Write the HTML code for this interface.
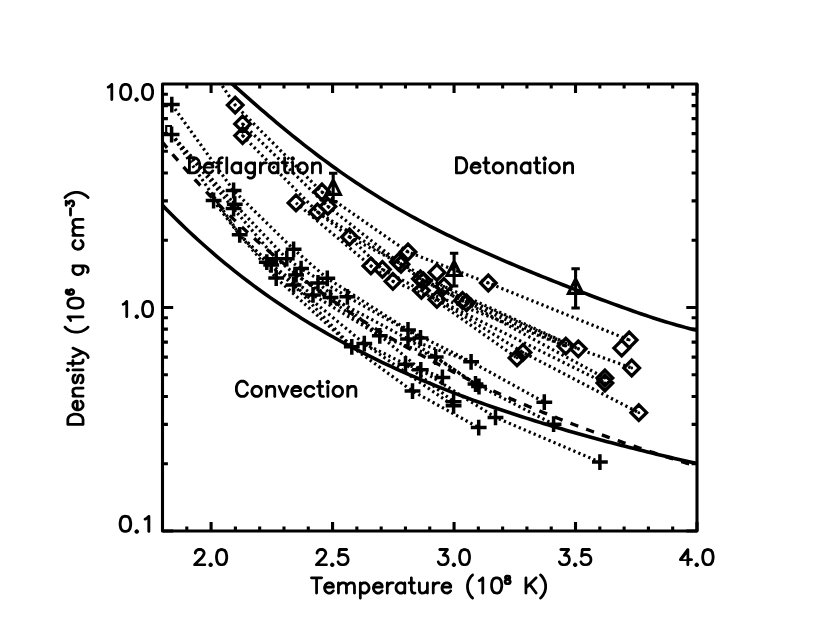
<!DOCTYPE html>
<html><head><meta charset="utf-8"><title>Density vs Temperature</title>
<style>html,body{margin:0;padding:0;background:#fff;font-family:"Liberation Sans",sans-serif;}svg{display:block}</style>
</head><body><svg width="830" height="642" viewBox="0 0 830 642">
<rect x="0" y="0" width="830" height="642" fill="#fff"/>
<defs><clipPath id="c"><rect x="162.5" y="84.0" width="534.5" height="447.0"/></clipPath></defs>
<g clip-path="url(#c)"><path d="M225.00 77.52L228.97 81.07L232.93 84.61L236.90 88.14L240.87 91.66L244.83 95.16L248.80 98.66L252.76 102.13L256.73 105.58L260.70 109.02L264.66 112.43L268.63 115.82L272.60 119.18L276.56 122.52L280.53 125.82L284.50 129.10L288.46 132.36L292.43 135.58L296.39 138.77L300.36 141.92L304.33 145.05L308.29 148.14L312.26 151.19L316.23 154.22L320.19 157.20L324.16 160.16L328.13 163.07L332.09 165.96L336.06 168.80L340.03 171.61L343.99 174.38L347.96 177.12L351.92 179.82L355.89 182.49L359.86 185.12L363.82 187.71L367.79 190.27L371.76 192.80L375.72 195.29L379.69 197.74L383.66 200.17L387.62 202.55L391.59 204.91L395.55 207.23L399.52 209.52L403.49 211.78L407.45 214.01L411.42 216.21L415.39 218.38L419.35 220.52L423.32 222.64L427.29 224.72L431.25 226.78L435.22 228.81L439.18 230.82L443.15 232.81L447.12 234.77L451.08 236.70L455.05 238.62L459.02 240.51L462.98 242.38L466.95 244.23L470.92 246.07L474.88 247.88L478.85 249.68L482.82 251.46L486.78 253.22L490.75 254.97L494.71 256.70L498.68 258.42L502.65 260.13L506.61 261.82L510.58 263.50L514.55 265.17L518.51 266.83L522.48 268.48L526.45 270.11L530.41 271.74L534.38 273.36L538.34 274.97L542.31 276.57L546.28 278.16L550.24 279.75L554.21 281.33L558.18 282.90L562.14 284.46L566.11 286.02L570.08 287.57L574.04 289.11L578.01 290.64L581.97 292.17L585.94 293.69L589.91 295.21L593.87 296.71L597.84 298.21L601.81 299.69L605.77 301.17L609.74 302.64L613.71 304.10L617.67 305.55L621.64 306.98L625.61 308.41L629.57 309.82L633.54 311.21L637.50 312.59L641.47 313.95L645.44 315.29L649.40 316.62L653.37 317.92L657.34 319.20L661.30 320.46L665.27 321.69L669.24 322.89L673.20 324.06L677.17 325.20L681.13 326.31L685.10 327.38L689.07 328.41L693.03 329.40L697.00 330.35" fill="none" stroke="#000" stroke-width="3.6"/><path d="M162.50 205.36L166.99 209.98L171.48 214.51L175.97 218.98L180.47 223.37L184.96 227.69L189.45 231.94L193.94 236.12L198.43 240.23L202.92 244.28L207.42 248.25L211.91 252.17L216.40 256.02L220.89 259.81L225.38 263.53L229.87 267.20L234.37 270.81L238.86 274.35L243.35 277.84L247.84 281.28L252.33 284.65L256.82 287.98L261.32 291.25L265.81 294.46L270.30 297.63L274.79 300.74L279.28 303.81L283.77 306.82L288.26 309.79L292.76 312.71L297.25 315.59L301.74 318.42L306.23 321.20L310.72 323.94L315.21 326.64L319.71 329.30L324.20 331.91L328.69 334.48L333.18 337.02L337.67 339.52L342.16 341.97L346.66 344.39L351.15 346.78L355.64 349.13L360.13 351.44L364.62 353.72L369.11 355.97L373.61 358.18L378.10 360.36L382.59 362.51L387.08 364.63L391.57 366.71L396.06 368.77L400.55 370.80L405.05 372.80L409.54 374.78L414.03 376.72L418.52 378.64L423.01 380.54L427.50 382.41L432.00 384.25L436.49 386.07L440.98 387.87L445.47 389.64L449.96 391.39L454.45 393.12L458.95 394.82L463.44 396.51L467.93 398.17L472.42 399.82L476.91 401.44L481.40 403.05L485.89 404.64L490.39 406.20L494.88 407.75L499.37 409.29L503.86 410.80L508.35 412.30L512.84 413.78L517.34 415.25L521.83 416.70L526.32 418.13L530.81 419.55L535.30 420.96L539.79 422.35L544.29 423.72L548.78 425.09L553.27 426.44L557.76 427.77L562.25 429.09L566.74 430.40L571.24 431.70L575.73 432.98L580.22 434.25L584.71 435.51L589.20 436.76L593.69 438.00L598.18 439.22L602.68 440.44L607.17 441.64L611.66 442.83L616.15 444.01L620.64 445.18L625.13 446.34L629.63 447.49L634.12 448.62L638.61 449.75L643.10 450.87L647.59 451.97L652.08 453.07L656.58 454.15L661.07 455.23L665.56 456.30L670.05 457.35L674.54 458.39L679.03 459.43L683.53 460.45L688.02 461.46L692.51 462.47L697.00 463.46" fill="none" stroke="#000" stroke-width="3.6"/><path d="M162.50 142.23L163.84 143.85L165.18 145.47L166.52 147.08L167.86 148.68L169.20 150.28L170.54 151.87L171.88 153.45L173.22 155.03L174.56 156.59L175.90 158.15L177.24 159.71L178.58 161.26L179.91 162.80L181.25 164.33L182.59 165.86L183.93 167.38L185.27 168.89L186.61 170.40L187.95 171.89L189.29 173.39L190.63 174.87L191.97 176.35L193.31 177.83L194.65 179.29L195.99 180.75L197.33 182.21L198.67 183.65L200.01 185.09L201.35 186.53L202.69 187.96L204.03 189.38L205.37 190.79L206.71 192.20L208.05 193.60L209.39 195.00L210.73 196.39L212.07 197.77L213.40 199.15L214.74 200.52L216.08 201.89L217.42 203.25L218.76 204.60L220.10 205.95L221.44 207.29L222.78 208.63L224.12 209.96L225.46 211.28L226.80 212.60L228.14 213.91L229.48 215.22L230.82 216.52L232.16 217.82L233.50 219.11L234.84 220.39L236.18 221.67L237.52 222.94L238.86 224.21L240.20 225.47L241.54 226.72L242.88 227.97L244.22 229.22L245.56 230.46L246.89 231.69L248.23 232.92L249.57 234.14L250.91 235.36L252.25 236.58L253.59 237.78L254.93 238.98L256.27 240.18L257.61 241.37L258.95 242.56L260.29 243.74L261.63 244.92L262.97 246.09L264.31 247.25L265.65 248.42L266.99 249.57L268.33 250.72L269.67 251.87L271.01 253.01L272.35 254.15L273.69 255.28L275.03 256.40L276.37 257.52L277.71 258.64L279.05 259.75L280.38 260.86L281.72 261.96L283.06 263.06L284.40 264.15L285.74 265.24L287.08 266.33L288.42 267.40L289.76 268.48L291.10 269.55L292.44 270.61L293.78 271.68L295.12 272.73L296.46 273.78L297.80 274.83L299.14 275.87L300.48 276.91L301.82 277.95L303.16 278.98L304.50 280.00L305.84 281.02L307.18 282.04L308.52 283.05L309.86 284.06L311.20 285.07L312.54 286.07L313.87 287.06L315.21 288.05L316.55 289.04L317.89 290.03L319.23 291.01L320.57 291.98L321.91 292.95L323.25 293.92L324.59 294.88L325.93 295.84L327.27 296.80L328.61 297.75L329.95 298.70L331.29 299.64L332.63 300.58L333.97 301.52L335.31 302.45L336.65 303.38L337.99 304.30L339.33 305.22L340.67 306.14L342.01 307.06L343.35 307.97L344.69 308.87L346.03 309.77L347.36 310.67L348.70 311.57L350.04 312.46L351.38 313.35L352.72 314.23L354.06 315.12L355.40 315.99L356.74 316.87L358.08 317.74L359.42 318.61L360.76 319.47L362.10 320.33L363.44 321.19L364.78 322.04L366.12 322.89L367.46 323.74L368.80 324.58L370.14 325.42L371.48 326.26L372.82 327.09L374.16 327.93L375.50 328.75L376.84 329.58L378.18 330.40L379.52 331.22L380.85 332.03L382.19 332.84L383.53 333.65L384.87 334.46L386.21 335.26L387.55 336.06L388.89 336.86L390.23 337.65L391.57 338.44L392.91 339.23L394.25 340.01L395.59 340.80L396.93 341.57L398.27 342.35L399.61 343.12L400.95 343.89L402.29 344.66L403.63 345.43L404.97 346.19L406.31 346.95L407.65 347.70L408.99 348.46L410.33 349.21L411.67 349.95L413.01 350.70L414.34 351.44L415.68 352.18L417.02 352.92L418.36 353.65L419.70 354.39L421.04 355.11L422.38 355.84L423.72 356.57L425.06 357.29L426.40 358.01L427.74 358.72L429.08 359.44L430.42 360.15L431.76 360.86L433.10 361.56L434.44 362.27L435.78 362.97L437.12 363.67L438.46 364.36L439.80 365.06L441.14 365.75L442.48 366.44L443.82 367.13L445.16 367.81L446.49 368.49L447.83 369.17L449.17 369.85L450.51 370.53L451.85 371.20L453.19 371.87L454.53 372.54L455.87 373.21L457.21 373.87L458.55 374.53L459.89 375.19L461.23 375.85L462.57 376.51L463.91 377.16L465.25 377.81L466.59 378.46L467.93 379.11L469.27 379.75L470.61 380.40L471.95 381.04L473.29 381.68L474.63 382.31L475.97 382.95L477.31 383.58L478.65 384.21L479.98 384.84L481.32 385.47L482.66 386.09L484.00 386.71L485.34 387.33L486.68 387.95L488.02 388.57L489.36 389.18L490.70 389.80L492.04 390.41L493.38 391.02L494.72 391.62L496.06 392.23L497.40 392.83L498.74 393.43L500.08 394.03L501.42 394.63L502.76 395.23L504.10 395.82L505.44 396.42L506.78 397.01L508.12 397.60L509.46 398.18L510.80 398.77L512.14 399.35L513.47 399.93L514.81 400.52L516.15 401.09L517.49 401.67L518.83 402.25L520.17 402.82L521.51 403.39L522.85 403.96L524.19 404.53L525.53 405.10L526.87 405.66L528.21 406.23L529.55 406.79L530.89 407.35L532.23 407.91L533.57 408.46L534.91 409.02L536.25 409.57L537.59 410.13L538.93 410.68L540.27 411.23L541.61 411.78L542.95 412.32L544.29 412.87L545.63 413.41L546.96 413.95L548.30 414.49L549.64 415.03L550.98 415.57L552.32 416.10L553.66 416.64L555.00 417.17L556.34 417.70L557.68 418.23L559.02 418.76L560.36 419.29L561.70 419.81L563.04 420.34L564.38 420.86L565.72 421.38L567.06 421.90L568.40 422.42L569.74 422.94L571.08 423.45L572.42 423.97L573.76 424.48L575.10 424.99L576.44 425.50L577.78 426.01L579.12 426.52L580.45 427.02L581.79 427.53L583.13 428.03L584.47 428.53L585.81 429.03L587.15 429.53L588.49 430.03L589.83 430.53L591.17 431.02L592.51 431.52L593.85 432.01L595.19 432.50L596.53 432.99L597.87 433.48L599.21 433.97L600.55 434.45L601.89 434.94L603.23 435.42L604.57 435.90L605.91 436.39L607.25 436.87L608.59 437.34L609.93 437.82L611.27 438.30L612.61 438.77L613.94 439.25L615.28 439.72L616.62 440.19L617.96 440.66L619.30 441.13L620.64 441.60L621.98 442.06L623.32 442.53L624.66 442.99L626.00 443.45L627.34 443.91L628.68 444.37L630.02 444.83L631.36 445.29L632.70 445.75L634.04 446.20L635.38 446.66L636.72 447.11L638.06 447.56L639.40 448.01L640.74 448.46L642.08 448.91L643.42 449.36L644.76 449.80L646.10 450.25L647.43 450.69L648.77 451.13L650.11 451.57L651.45 452.01L652.79 452.45L654.13 452.89L655.47 453.32L656.81 453.76L658.15 454.19L659.49 454.62L660.83 455.05L662.17 455.49L663.51 455.91L664.85 456.34L666.19 456.77L667.53 457.19L668.87 457.62L670.21 458.04L671.55 458.46L672.89 458.88L674.23 459.30L675.57 459.72L676.91 460.14L678.25 460.55L679.59 460.97L680.92 461.38L682.26 461.79L683.60 462.20L684.94 462.61L686.28 463.02L687.62 463.43L688.96 463.84L690.30 464.24L691.64 464.64L692.98 465.05L694.32 465.45L695.66 465.85L697.00 466.25" fill="none" stroke="#000" stroke-width="3.4" stroke-dasharray="8.3 8.45" stroke-dashoffset="1.06"/><path d="M222.30 85.90L235.20 105.10L321.90 192.00L408.00 252.00L488.30 283.00L629.20 340.00" fill="none" stroke="#000" stroke-width="3.2" stroke-dasharray="2.3 3.1"/><path d="M242.60 123.90L327.90 206.40L398.40 262.00L420.40 278.80L578.30 348.80" fill="none" stroke="#000" stroke-width="3.2" stroke-dasharray="2.3 3.1"/><path d="M317.40 211.90L401.00 264.30L423.40 280.80L462.50 300.50L565.80 346.10" fill="none" stroke="#000" stroke-width="3.2" stroke-dasharray="2.3 3.1"/><path d="M242.60 135.60L317.40 211.90L349.50 237.00L382.40 269.40L421.40 290.40L565.80 346.10" fill="none" stroke="#000" stroke-width="3.2" stroke-dasharray="2.3 3.1"/><path d="M421.40 290.40L517.00 357.90" fill="none" stroke="#000" stroke-width="3.2" stroke-dasharray="2.3 3.1"/><path d="M296.00 202.90L370.90 265.90L392.90 281.30L436.90 299.40L523.00 352.40L638.80 412.70" fill="none" stroke="#000" stroke-width="3.2" stroke-dasharray="2.3 3.1"/><path d="M436.90 299.40L604.90 383.00" fill="none" stroke="#000" stroke-width="3.2" stroke-dasharray="2.3 3.1"/><path d="M349.50 237.00L443.90 286.40L578.30 348.80L631.70 368.00" fill="none" stroke="#000" stroke-width="3.2" stroke-dasharray="2.3 3.1"/><path d="M423.40 280.80L466.50 302.80L604.90 378.00" fill="none" stroke="#000" stroke-width="3.2" stroke-dasharray="2.3 3.1"/><path d="M171.80 104.60L233.60 190.50L293.60 249.30L327.30 278.30L408.00 330.00L471.10 361.80L544.30 402.20" fill="none" stroke="#000" stroke-width="3.2" stroke-dasharray="2.3 3.1"/><path d="M408.00 339.00L471.10 361.80" fill="none" stroke="#000" stroke-width="3.2" stroke-dasharray="2.3 3.1"/><path d="M171.60 134.50L239.70 234.80L276.20 278.00L351.80 346.80L412.50 391.10L478.70 427.60" fill="none" stroke="#000" stroke-width="3.2" stroke-dasharray="2.3 3.1"/><path d="M213.60 200.50L239.70 234.80L266.80 262.20L293.60 284.90L364.30 343.60L453.60 405.80" fill="none" stroke="#000" stroke-width="3.2" stroke-dasharray="2.3 3.1"/><path d="M213.60 200.50L239.70 234.80L271.20 264.90L313.00 294.90L379.80 335.80L435.70 357.00L475.50 384.00L553.60 424.20" fill="none" stroke="#000" stroke-width="3.2" stroke-dasharray="2.3 3.1"/><path d="M171.60 134.50L233.60 208.60L276.20 258.70L296.10 274.90L330.50 297.40L408.00 339.00L479.00 386.50" fill="none" stroke="#000" stroke-width="3.2" stroke-dasharray="2.3 3.1"/><path d="M171.60 134.50L234.80 204.20L286.80 258.70L301.10 268.60L347.40 296.80L420.50 338.00" fill="none" stroke="#000" stroke-width="3.2" stroke-dasharray="2.3 3.1"/><path d="M364.30 343.60L405.50 364.20L453.60 401.70" fill="none" stroke="#000" stroke-width="3.2" stroke-dasharray="2.3 3.1"/><path d="M318.00 283.00L420.80 369.80L495.50 417.40L599.90 462.10" fill="none" stroke="#000" stroke-width="3.2" stroke-dasharray="2.3 3.1"/><path d="M405.50 364.20L442.40 377.40" fill="none" stroke="#000" stroke-width="3.2" stroke-dasharray="2.3 3.1"/><path d="M293.60 284.90L351.80 346.80" fill="none" stroke="#000" stroke-width="3.2" stroke-dasharray="2.3 3.1"/><path d="M296.10 274.90L379.80 335.80" fill="none" stroke="#000" stroke-width="3.2" stroke-dasharray="2.3 3.1"/><path d="M163.9 104.6H179.7M171.8 96.7V112.5M163.7 134.5H179.5M171.6 126.6V142.4M225.7 190.5H241.5M233.6 182.6V198.4M205.7 200.5H221.5M213.6 192.6V208.4M226.9 204.2H242.7M234.8 196.3V212.1M225.7 208.6H241.5M233.6 200.7V216.5M231.8 234.8H247.6M239.7 226.9V242.7M285.7 249.3H301.5M293.6 241.4V257.2M258.9 262.2H274.7M266.8 254.3V270.1M268.3 258.7H284.1M276.2 250.8V266.6M263.3 264.9H279.1M271.2 257.0V272.8M278.9 258.7H294.7M286.8 250.8V266.6M268.3 278.0H284.1M276.2 270.1V285.9M293.2 268.6H309.0M301.1 260.7V276.5M288.2 274.9H304.0M296.1 267.0V282.8M285.7 284.9H301.5M293.6 277.0V292.8M319.4 278.3H335.2M327.3 270.4V286.2M310.1 283.0H325.9M318.0 275.1V290.9M305.1 294.9H320.9M313.0 287.0V302.8M322.6 297.4H338.4M330.5 289.5V305.3M339.5 296.8H355.3M347.4 288.9V304.7M371.9 335.8H387.7M379.8 327.9V343.7M343.9 346.8H359.7M351.8 338.9V354.7M356.4 343.6H372.2M364.3 335.7V351.5M400.1 330.0H415.9M408.0 322.1V337.9M400.1 339.0H415.9M408.0 331.1V346.9M412.6 338.0H428.4M420.5 330.1V345.9M427.8 357.0H443.6M435.7 349.1V364.9M463.2 361.8H479.0M471.1 353.9V369.7M397.6 364.2H413.4M405.5 356.3V372.1M412.9 369.8H428.7M420.8 361.9V377.7M434.5 377.4H450.3M442.4 369.5V385.3M404.6 391.1H420.4M412.5 383.2V399.0M467.6 384.0H483.4M475.5 376.1V391.9M471.1 386.5H486.9M479.0 378.6V394.4M445.7 401.7H461.5M453.6 393.8V409.6M445.7 405.8H461.5M453.6 397.9V413.7M487.6 417.4H503.4M495.5 409.5V425.3M470.8 427.6H486.6M478.7 419.7V435.5M536.4 402.2H552.2M544.3 394.3V410.1M545.7 424.2H561.5M553.6 416.3V432.1M592.0 462.1H607.8M599.9 454.2V470.0" fill="none" stroke="#000" stroke-width="3.5"/><path d="M227.4 105.1L235.2 97.3L243.0 105.1L235.2 112.9ZM234.8 123.9L242.6 116.1L250.4 123.9L242.6 131.7ZM234.8 135.6L242.6 127.8L250.4 135.6L242.6 143.4ZM288.2 202.9L296.0 195.1L303.8 202.9L296.0 210.7ZM314.1 192.0L321.9 184.2L329.7 192.0L321.9 199.8ZM309.6 211.9L317.4 204.1L325.2 211.9L317.4 219.7ZM320.1 206.4L327.9 198.6L335.7 206.4L327.9 214.2ZM341.7 237.0L349.5 229.2L357.3 237.0L349.5 244.8ZM363.1 265.9L370.9 258.1L378.7 265.9L370.9 273.7ZM374.6 269.4L382.4 261.6L390.2 269.4L382.4 277.2ZM385.1 281.3L392.9 273.5L400.7 281.3L392.9 289.1ZM400.2 252.0L408.0 244.2L415.8 252.0L408.0 259.8ZM390.6 262.0L398.4 254.2L406.2 262.0L398.4 269.8ZM393.2 264.3L401.0 256.5L408.8 264.3L401.0 272.1ZM412.6 278.8L420.4 271.0L428.2 278.8L420.4 286.6ZM415.6 280.8L423.4 273.0L431.2 280.8L423.4 288.6ZM429.1 272.4L436.9 264.6L444.7 272.4L436.9 280.2ZM413.6 290.4L421.4 282.6L429.2 290.4L421.4 298.2ZM436.1 286.4L443.9 278.6L451.7 286.4L443.9 294.2ZM429.1 299.4L436.9 291.6L444.7 299.4L436.9 307.2ZM480.5 283.0L488.3 275.2L496.1 283.0L488.3 290.8ZM454.7 300.5L462.5 292.7L470.3 300.5L462.5 308.3ZM458.7 302.8L466.5 295.0L474.3 302.8L466.5 310.6ZM509.2 357.9L517.0 350.1L524.8 357.9L517.0 365.7ZM515.2 352.4L523.0 344.6L530.8 352.4L523.0 360.2ZM558.0 346.1L565.8 338.3L573.6 346.1L565.8 353.9ZM570.5 348.8L578.3 341.0L586.1 348.8L578.3 356.6ZM621.4 340.0L629.2 332.2L637.0 340.0L629.2 347.8ZM613.9 348.1L621.7 340.3L629.5 348.1L621.7 355.9ZM623.9 368.0L631.7 360.2L639.5 368.0L631.7 375.8ZM597.1 378.0L604.9 370.2L612.7 378.0L604.9 385.8ZM597.1 383.0L604.9 375.2L612.7 383.0L604.9 390.8ZM631.0 412.7L638.8 404.9L646.6 412.7L638.8 420.5Z" fill="none" stroke="#000" stroke-width="3.3" stroke-linejoin="miter"/><path d="M326.0 194.4L333.2 180.0L340.4 194.4ZM333.2 173.3V201.6M329.0 173.3H337.4M329.0 201.6H337.4M446.9 275.5L454.1 261.1L461.3 275.5ZM454.1 253.3V286.0M449.9 253.3H458.3M449.9 286.0H458.3M568.4 293.4L575.6 279.0L582.8 293.4ZM575.6 268.7V308.0M571.4 268.7H579.8M571.4 308.0H579.8" fill="none" stroke="#000" stroke-width="3.1"/><circle cx="235.2" cy="105.1" r="1.45"/><circle cx="242.6" cy="123.9" r="1.45"/><circle cx="242.6" cy="135.6" r="1.45"/><circle cx="321.9" cy="192.0" r="1.45"/><circle cx="317.4" cy="211.9" r="1.45"/><circle cx="327.9" cy="206.4" r="1.45"/><circle cx="349.5" cy="237.0" r="1.45"/><circle cx="370.9" cy="265.9" r="1.45"/><circle cx="382.4" cy="269.4" r="1.45"/><circle cx="392.9" cy="281.3" r="1.45"/><circle cx="408.0" cy="252.0" r="1.45"/><circle cx="398.4" cy="262.0" r="1.45"/><circle cx="401.0" cy="264.3" r="1.45"/><circle cx="420.4" cy="278.8" r="1.45"/><circle cx="423.4" cy="280.8" r="1.45"/><circle cx="421.4" cy="290.4" r="1.45"/><circle cx="443.9" cy="286.4" r="1.45"/><circle cx="436.9" cy="299.4" r="1.45"/><circle cx="488.3" cy="283.0" r="1.45"/><circle cx="462.5" cy="300.5" r="1.45"/><circle cx="466.5" cy="302.8" r="1.45"/><circle cx="517.0" cy="357.9" r="1.45"/><circle cx="523.0" cy="352.4" r="1.45"/><circle cx="565.8" cy="346.1" r="1.45"/><circle cx="578.3" cy="348.8" r="1.45"/><circle cx="629.2" cy="340.0" r="1.45"/><circle cx="631.7" cy="368.0" r="1.45"/><circle cx="604.9" cy="378.0" r="1.45"/><circle cx="604.9" cy="383.0" r="1.45"/><circle cx="638.8" cy="412.7" r="1.45"/><path d="M166.2 134V126H172" fill="none" stroke="#000" stroke-width="2.2"/></g>
<rect x="162.5" y="84.0" width="534.5" height="447.0" fill="none" stroke="#000" stroke-width="3.1" stroke-linejoin="round"/>
<path d="M186.80 531.0v-4.5M186.80 84.0v4.5M211.09 531.0v-8.9M211.09 84.0v8.9M235.39 531.0v-4.5M235.39 84.0v4.5M259.68 531.0v-4.5M259.68 84.0v4.5M283.98 531.0v-4.5M283.98 84.0v4.5M308.27 531.0v-4.5M308.27 84.0v4.5M332.57 531.0v-8.9M332.57 84.0v8.9M356.86 531.0v-4.5M356.86 84.0v4.5M381.16 531.0v-4.5M381.16 84.0v4.5M405.45 531.0v-4.5M405.45 84.0v4.5M429.75 531.0v-4.5M429.75 84.0v4.5M454.05 531.0v-8.9M454.05 84.0v8.9M478.34 531.0v-4.5M478.34 84.0v4.5M502.64 531.0v-4.5M502.64 84.0v4.5M526.93 531.0v-4.5M526.93 84.0v4.5M551.23 531.0v-4.5M551.23 84.0v4.5M575.52 531.0v-8.9M575.52 84.0v8.9M599.82 531.0v-4.5M599.82 84.0v4.5M624.11 531.0v-4.5M624.11 84.0v4.5M648.41 531.0v-4.5M648.41 84.0v4.5M672.70 531.0v-4.5M672.70 84.0v4.5M697.00 531.0v-8.9M697.00 84.0v8.9M162.5 531.00h10.7M697.0 531.00h-10.7M162.5 463.72h5.4M697.0 463.72h-5.4M162.5 424.36h5.4M697.0 424.36h-5.4M162.5 396.44h5.4M697.0 396.44h-5.4M162.5 374.78h5.4M697.0 374.78h-5.4M162.5 357.08h5.4M697.0 357.08h-5.4M162.5 342.12h5.4M697.0 342.12h-5.4M162.5 329.16h5.4M697.0 329.16h-5.4M162.5 317.73h5.4M697.0 317.73h-5.4M162.5 307.50h10.7M697.0 307.50h-10.7M162.5 240.22h5.4M697.0 240.22h-5.4M162.5 200.86h5.4M697.0 200.86h-5.4M162.5 172.94h5.4M697.0 172.94h-5.4M162.5 151.28h5.4M697.0 151.28h-5.4M162.5 133.58h5.4M697.0 133.58h-5.4M162.5 118.62h5.4M697.0 118.62h-5.4M162.5 105.66h5.4M697.0 105.66h-5.4M162.5 94.23h5.4M697.0 94.23h-5.4" fill="none" stroke="#000" stroke-width="3.1"/>
<path d="M136.25 97.36L135.50 97.77L134.76 98.51L134.35 99.25L134.35 99.99L134.62 100.53L135.50 101.48L136.11 101.82L136.72 101.88L137.06 101.82L137.68 101.48L138.56 100.53L138.83 99.99L138.83 99.25L138.42 98.51L137.68 97.77L137.13 97.43ZM111.45 82.99L110.95 83.24L108.87 85.30L107.43 86.05L106.99 86.49L106.86 86.74L106.80 87.49L107.05 88.05L107.30 88.30L107.81 88.55L108.81 88.49L110.32 87.68L110.38 87.74L110.38 99.55L110.57 100.18L111.01 100.68L111.39 100.86L111.95 100.93L112.39 100.80L112.96 100.30L113.21 99.55L113.21 84.30L113.02 83.68L112.65 83.24L112.14 82.99ZM146.77 82.93L146.33 82.99L144.26 83.68L143.82 83.93L143.38 84.36L142.00 86.43L141.74 87.05L141.05 90.49L141.05 93.43L141.74 96.86L142.06 97.55L143.44 99.61L144.20 100.18L146.27 100.86L148.41 100.93L150.86 100.18L151.61 99.61L152.99 97.55L153.31 96.86L154.00 93.43L154.00 90.49L153.31 87.05L153.06 86.43L151.67 84.36L151.23 83.93L150.79 83.68L148.72 82.99ZM146.90 85.74L148.15 85.74L149.47 86.18L149.66 86.36L150.61 87.80L151.23 90.86L151.23 92.99L150.61 96.05L149.73 97.43L149.47 97.68L148.03 98.18L147.02 98.18L145.45 97.61L144.45 96.05L143.82 92.99L143.82 90.86L144.45 87.80L145.58 86.18ZM124.90 82.93L124.46 82.99L122.39 83.68L121.95 83.93L121.51 84.36L120.12 86.43L119.87 87.05L119.18 90.49L119.18 93.43L119.87 96.86L120.19 97.55L121.57 99.61L122.32 100.18L124.40 100.86L126.53 100.93L128.99 100.18L129.74 99.61L131.12 97.55L131.44 96.86L132.13 93.43L132.13 90.49L131.44 87.05L131.19 86.43L129.80 84.36L129.36 83.93L128.92 83.68L126.85 82.99ZM125.03 85.74L126.28 85.74L127.60 86.18L127.79 86.36L128.73 87.80L129.36 90.86L129.36 92.99L128.73 96.05L127.85 97.43L127.60 97.68L126.16 98.18L125.15 98.18L123.58 97.61L122.58 96.05L121.95 92.99L121.95 90.86L122.58 87.80L123.71 86.18Z" fill="#000" fill-rule="evenodd"/>
<path d="M136.48 314.46L135.74 314.87L135.00 315.61L134.60 316.35L134.60 317.09L134.87 317.63L135.74 318.58L136.34 318.92L136.95 318.98L137.28 318.92L137.88 318.58L138.76 317.63L139.02 317.09L139.02 316.35L138.62 315.61L137.88 314.87L137.35 314.53ZM126.39 300.09L125.89 300.34L123.85 302.40L122.42 303.15L121.99 303.59L121.86 303.84L121.80 304.59L122.05 305.15L122.30 305.40L122.79 305.65L123.79 305.59L125.27 304.77L125.34 304.84L125.34 316.65L125.52 317.27L125.96 317.77L126.33 317.96L126.89 318.02L127.32 317.90L127.88 317.40L128.13 316.65L128.13 301.40L127.94 300.77L127.57 300.34L127.07 300.09ZM146.87 300.02L146.43 300.09L144.38 300.77L143.95 301.02L143.51 301.46L142.15 303.52L141.90 304.15L141.22 307.59L141.22 310.52L141.90 313.96L142.21 314.65L143.58 316.71L144.32 317.27L146.37 317.96L148.48 318.02L150.90 317.27L151.64 316.71L153.01 314.65L153.32 313.96L154.00 310.52L154.00 307.59L153.32 304.15L153.07 303.52L151.70 301.46L151.27 301.02L150.84 300.77L148.79 300.09ZM146.99 302.84L148.23 302.84L149.53 303.27L149.72 303.46L150.65 304.90L151.27 307.96L151.27 310.09L150.65 313.15L149.78 314.52L149.53 314.77L148.11 315.27L147.11 315.27L145.56 314.71L144.57 313.15L143.95 310.09L143.95 307.96L144.57 304.90L145.69 303.27Z" fill="#000" fill-rule="evenodd"/>
<path d="M136.39 529.26L135.62 529.67L134.85 530.41L134.42 531.15L134.42 531.89L134.71 532.43L135.62 533.38L136.25 533.72L136.89 533.78L137.24 533.72L137.87 533.38L138.79 532.43L139.07 531.89L139.07 531.15L138.65 530.41L137.87 529.67L137.31 529.33ZM148.48 514.89L147.95 515.14L145.80 517.20L144.31 517.95L143.85 518.39L143.72 518.64L143.65 519.39L143.91 519.95L144.18 520.20L144.70 520.45L145.74 520.39L147.30 519.57L147.37 519.64L147.37 531.45L147.56 532.07L148.02 532.57L148.41 532.76L149.00 532.82L149.45 532.70L150.04 532.20L150.30 531.45L150.30 516.20L150.10 515.57L149.71 515.14L149.19 514.89ZM124.63 514.82L124.17 514.89L122.02 515.57L121.57 515.82L121.11 516.26L119.68 518.32L119.42 518.95L118.70 522.39L118.70 525.32L119.42 528.76L119.74 529.45L121.18 531.51L121.96 532.07L124.11 532.76L126.32 532.82L128.86 532.07L129.65 531.51L131.08 529.45L131.41 528.76L132.12 525.32L132.12 522.39L131.41 518.95L131.14 518.32L129.71 516.26L129.26 515.82L128.80 515.57L126.65 514.89ZM124.76 517.64L126.06 517.64L127.43 518.07L127.63 518.26L128.60 519.70L129.26 522.76L129.26 524.89L128.60 527.95L127.69 529.32L127.43 529.57L125.93 530.07L124.89 530.07L123.26 529.51L122.22 527.95L121.57 524.89L121.57 522.76L122.22 519.70L123.39 518.07Z" fill="#000" fill-rule="evenodd"/>
<path d="M210.31 562.56L209.56 562.97L208.81 563.71L208.40 564.45L208.40 565.19L208.68 565.73L209.56 566.68L210.17 567.02L210.78 567.08L211.12 567.02L211.74 566.68L212.62 565.73L212.89 565.19L212.89 564.45L212.49 563.71L211.74 562.97L211.19 562.63ZM220.86 548.12L220.41 548.19L218.34 548.88L217.89 549.12L217.45 549.56L216.07 551.62L215.82 552.25L215.12 555.69L215.12 558.62L215.82 562.06L216.13 562.75L217.52 564.81L218.27 565.38L220.35 566.06L222.49 566.12L224.95 565.38L225.71 564.81L227.09 562.75L227.41 562.06L228.10 558.62L228.10 555.69L227.41 552.25L227.16 551.62L225.77 549.56L225.33 549.12L224.89 548.88L222.81 548.19ZM220.98 550.94L222.24 550.94L223.56 551.38L223.75 551.56L224.70 553.00L225.33 556.06L225.33 558.19L224.70 561.25L223.82 562.62L223.56 562.88L222.12 563.38L221.11 563.38L219.53 562.81L218.52 561.25L217.89 558.19L217.89 556.06L218.52 553.00L219.66 551.38ZM197.48 548.31L196.22 548.94L195.78 549.25L195.03 550.00L194.71 550.44L194.08 551.69L193.89 552.44L193.89 553.19L194.02 553.69L194.21 554.00L194.59 554.31L195.03 554.50L195.59 554.50L196.03 554.31L196.48 553.88L196.73 553.12L196.73 552.69L197.17 551.81L197.61 551.38L198.49 550.94L200.89 550.94L201.77 551.38L202.21 551.81L202.65 552.69L202.65 553.62L202.15 554.62L200.89 556.50L193.58 563.75L193.20 564.56L193.26 565.19L193.45 565.56L193.77 565.88L194.46 566.12L204.92 566.12L205.23 566.06L205.61 565.88L205.93 565.56L206.18 564.94L206.18 564.56L205.93 563.94L205.61 563.62L205.23 563.44L204.92 563.38L198.05 563.38L197.99 563.31L202.90 558.50L202.90 558.38L203.22 558.06L204.48 556.19L205.30 554.56L205.48 553.88L205.48 552.44L205.30 551.69L204.67 550.44L204.35 550.00L203.59 549.25L203.15 548.94L201.89 548.31L201.14 548.12L198.24 548.12Z" fill="#000" fill-rule="evenodd"/>
<path d="M331.91 562.56L331.17 562.97L330.43 563.71L330.03 564.45L330.03 565.19L330.30 565.73L331.17 566.68L331.78 567.02L332.38 567.08L332.72 567.02L333.32 566.68L334.20 565.73L334.47 565.19L334.47 564.45L334.06 563.71L333.32 562.97L332.79 562.63ZM338.73 548.38L338.35 548.75L338.04 549.62L337.85 551.88L337.36 555.81L337.42 556.38L337.61 556.81L337.98 557.19L338.35 557.38L339.10 557.38L339.79 557.00L340.28 556.50L341.78 556.00L343.71 556.00L345.27 556.56L346.26 557.62L346.76 559.12L346.76 560.25L346.26 561.75L345.20 562.81L343.58 563.38L341.84 563.38L340.22 562.81L339.85 562.44L339.10 561.00L338.66 560.62L338.29 560.50L337.54 560.56L337.29 560.69L336.86 561.12L336.67 561.62L336.67 562.06L336.80 562.50L337.61 564.06L338.48 565.00L339.10 565.38L341.16 566.06L343.96 566.12L346.39 565.38L346.95 565.00L348.57 563.31L348.75 563.00L349.44 560.94L349.50 558.75L348.81 556.50L348.38 555.75L347.01 554.38L346.26 553.94L344.39 553.31L343.77 553.19L341.65 553.19L341.03 553.31L340.47 553.50L340.41 553.38L340.66 551.12L340.78 550.94L346.70 550.94L347.20 550.81L347.82 550.31L348.01 549.94L348.07 549.38L347.94 548.94L347.44 548.38L346.70 548.12L339.47 548.12ZM319.23 548.31L317.99 548.94L317.55 549.25L316.81 550.00L316.49 550.44L315.87 551.69L315.69 552.44L315.69 553.19L315.81 553.69L316.00 554.00L316.37 554.31L316.81 554.50L317.37 554.50L317.80 554.31L318.24 553.88L318.49 553.12L318.49 552.69L318.92 551.81L319.36 551.38L320.23 550.94L322.60 550.94L323.47 551.38L323.91 551.81L324.34 552.69L324.34 553.62L323.84 554.62L322.60 556.50L315.37 563.75L315.00 564.56L315.06 565.19L315.25 565.56L315.56 565.88L316.25 566.12L326.58 566.12L326.89 566.06L327.27 565.88L327.58 565.56L327.83 564.94L327.83 564.56L327.58 563.94L327.27 563.62L326.89 563.44L326.58 563.38L319.80 563.38L319.73 563.31L324.59 558.50L324.59 558.38L324.90 558.06L326.15 556.19L326.96 554.56L327.14 553.88L327.14 552.44L326.96 551.69L326.33 550.44L326.02 550.00L325.28 549.25L324.84 548.94L323.59 548.31L322.85 548.12L319.98 548.12Z" fill="#000" fill-rule="evenodd"/>
<path d="M453.57 562.56L452.84 562.97L452.11 563.71L451.71 564.45L451.71 565.19L451.98 565.73L452.84 566.68L453.43 567.02L454.03 567.08L454.36 567.02L454.96 566.68L455.82 565.73L456.09 565.19L456.09 564.45L455.69 563.71L454.96 562.97L454.43 562.63ZM463.84 548.12L463.41 548.19L461.39 548.88L460.96 549.12L460.53 549.56L459.18 551.62L458.93 552.25L458.26 555.69L458.26 558.62L458.93 562.06L459.24 562.75L460.59 564.81L461.33 565.38L463.35 566.06L465.44 566.12L467.83 565.38L468.57 564.81L469.92 562.75L470.22 562.06L470.90 558.62L470.90 555.69L470.22 552.25L469.98 551.62L468.63 549.56L468.20 549.12L467.77 548.88L465.74 548.19ZM463.96 550.94L465.19 550.94L466.48 551.38L466.67 551.56L467.59 553.00L468.20 556.06L468.20 558.19L467.59 561.25L466.73 562.62L466.48 562.88L465.07 563.38L464.09 563.38L462.55 562.81L461.57 561.25L460.96 558.19L460.96 556.06L461.57 553.00L462.68 551.38ZM438.93 548.38L438.56 548.75L438.31 549.38L438.37 549.94L438.56 550.31L439.17 550.81L439.66 550.94L444.63 550.94L444.69 551.00L442.12 554.50L441.87 555.19L441.93 555.75L442.12 556.12L442.42 556.44L442.79 556.62L445.00 556.69L445.98 557.19L446.35 557.62L446.84 559.12L446.84 560.25L446.35 561.75L445.31 562.81L443.71 563.38L441.99 563.38L440.40 562.81L440.03 562.44L439.29 561.00L438.86 560.62L438.50 560.50L437.76 560.56L437.51 560.69L437.08 561.12L436.90 561.62L436.90 562.06L437.02 562.50L437.82 564.06L438.68 565.00L439.29 565.38L441.32 566.06L444.08 566.12L446.47 565.38L447.03 565.00L448.62 563.31L448.81 563.00L449.54 560.62L449.48 558.38L448.68 556.12L448.44 555.75L447.76 555.06L445.92 554.00L448.68 550.19L448.81 549.88L448.74 549.00L448.32 548.44L448.01 548.25L447.52 548.12L439.66 548.12Z" fill="#000" fill-rule="evenodd"/>
<path d="M574.81 562.56L574.08 562.97L573.34 563.71L572.94 564.45L572.94 565.19L573.21 565.73L574.08 566.68L574.68 567.02L575.28 567.08L575.62 567.02L576.22 566.68L577.09 565.73L577.36 565.19L577.36 564.45L576.95 563.71L576.22 562.97L575.68 562.63ZM581.59 548.38L581.22 548.75L580.91 549.62L580.72 551.88L580.23 555.81L580.29 556.38L580.47 556.81L580.85 557.19L581.22 557.38L581.96 557.38L582.64 557.00L583.14 556.50L584.62 556.00L586.54 556.00L588.09 556.56L589.08 557.62L589.58 559.12L589.58 560.25L589.08 561.75L588.03 562.81L586.42 563.38L584.68 563.38L583.07 562.81L582.70 562.44L581.96 561.00L581.53 560.62L581.16 560.50L580.41 560.56L580.16 560.69L579.73 561.12L579.55 561.62L579.55 562.06L579.67 562.50L580.47 564.06L581.34 565.00L581.96 565.38L584.00 566.06L586.79 566.12L589.20 565.38L589.76 565.00L591.37 563.31L591.56 563.00L592.24 560.94L592.30 558.75L591.62 556.50L591.19 555.75L589.82 554.38L589.08 553.94L587.22 553.31L586.60 553.19L584.50 553.19L583.88 553.31L583.32 553.50L583.26 553.38L583.51 551.12L583.63 550.94L589.51 550.94L590.01 550.81L590.63 550.31L590.81 549.94L590.88 549.38L590.75 548.94L590.26 548.38L589.51 548.12L582.33 548.12ZM560.04 548.38L559.67 548.75L559.42 549.38L559.49 549.94L559.67 550.31L560.29 550.81L560.79 550.94L565.80 550.94L565.86 551.00L563.26 554.50L563.01 555.19L563.08 555.75L563.26 556.12L563.57 556.44L563.94 556.62L566.17 556.69L567.16 557.19L567.53 557.62L568.03 559.12L568.03 560.25L567.53 561.75L566.48 562.81L564.87 563.38L563.14 563.38L561.53 562.81L561.16 562.44L560.41 561.00L559.98 560.62L559.61 560.50L558.87 560.56L558.62 560.69L558.19 561.12L558.00 561.62L558.00 562.06L558.12 562.50L558.93 564.06L559.80 565.00L560.41 565.38L562.46 566.06L565.24 566.12L567.66 565.38L568.22 565.00L569.83 563.31L570.01 563.00L570.75 560.62L570.69 558.38L569.89 556.12L569.64 555.75L568.96 555.06L567.10 554.00L569.89 550.19L570.01 549.88L569.95 549.00L569.52 548.44L569.21 548.25L568.71 548.12L560.79 548.12Z" fill="#000" fill-rule="evenodd"/>
<path d="M696.40 562.56L695.64 562.97L694.88 563.71L694.46 564.45L694.46 565.19L694.74 565.73L695.64 566.68L696.26 567.02L696.89 567.08L697.23 567.02L697.86 566.68L698.76 565.73L699.03 565.19L699.03 564.45L698.62 563.71L697.86 562.97L697.30 562.63ZM687.46 548.19L686.95 548.44L686.63 548.75L679.38 558.62L679.00 559.44L679.00 559.88L679.19 560.38L679.51 560.75L679.83 560.94L680.35 561.06L686.37 561.06L686.43 561.12L686.43 564.94L686.69 565.56L687.01 565.88L687.39 566.06L687.97 566.12L688.55 565.94L689.00 565.50L689.19 565.12L689.25 564.81L689.25 561.12L689.32 561.06L691.56 561.06L691.94 561.00L692.33 560.81L692.71 560.44L692.91 560.06L692.91 559.31L692.65 558.81L692.01 558.38L691.75 558.31L689.32 558.31L689.25 558.25L689.25 549.38L689.12 548.94L688.61 548.38L688.23 548.19ZM686.45 554.51L686.52 554.57L686.52 559.10L686.38 559.23L683.13 559.23L683.06 559.10ZM707.13 548.12L706.68 548.19L704.57 548.88L704.12 549.12L703.67 549.56L702.26 551.62L702.00 552.25L701.30 555.69L701.30 558.62L702.00 562.06L702.32 562.75L703.73 564.81L704.50 565.38L706.62 566.06L708.80 566.12L711.30 565.38L712.06 564.81L713.47 562.75L713.80 562.06L714.50 558.62L714.50 555.69L713.80 552.25L713.54 551.62L712.13 549.56L711.68 549.12L711.23 548.88L709.12 548.19ZM707.26 550.94L708.54 550.94L709.89 551.38L710.08 551.56L711.04 553.00L711.68 556.06L711.68 558.19L711.04 561.25L710.14 562.62L709.89 562.88L708.41 563.38L707.39 563.38L705.79 562.81L704.76 561.25L704.12 558.19L704.12 556.06L704.76 553.00L705.91 551.38Z" fill="#000" fill-rule="evenodd"/>
<path d="M292.42 161.45L292.04 161.58L291.53 162.01L291.28 162.64L291.28 173.08L291.47 173.64L291.79 174.01L292.23 174.26L292.80 174.33L293.11 174.26L293.55 174.01L293.87 173.64L294.06 173.08L294.06 162.64L293.81 162.01L293.49 161.70L292.92 161.45ZM311.61 161.70L311.23 162.14L311.04 162.76L311.04 173.01L311.29 173.70L311.74 174.14L312.56 174.33L313.25 174.08L313.57 173.76L313.82 173.14L313.82 166.33L315.52 164.64L316.41 164.20L318.05 164.20L318.62 164.51L319.12 166.01L319.12 173.14L319.37 173.76L319.69 174.08L320.07 174.26L320.64 174.33L321.21 174.14L321.77 173.51L321.90 173.01L321.90 165.64L321.84 165.20L321.14 163.14L320.83 162.64L320.38 162.26L319.00 161.58L318.30 161.39L316.09 161.39L315.40 161.58L314.01 162.26L313.82 162.45L313.63 162.08L313.19 161.64L312.94 161.51L312.18 161.45ZM301.45 161.39L300.75 161.58L299.36 162.26L297.34 164.26L296.46 166.64L296.40 167.14L296.46 169.08L297.28 171.39L297.53 171.76L298.98 173.20L299.43 173.51L300.81 174.20L301.32 174.33L303.78 174.33L304.29 174.20L305.86 173.39L307.76 171.51L308.01 171.01L308.64 169.14L308.71 168.76L308.64 166.64L307.95 164.58L307.76 164.26L305.74 162.26L304.35 161.58L303.66 161.39ZM301.76 164.20L303.40 164.20L304.35 164.70L305.42 165.83L305.93 167.39L305.93 168.39L305.36 170.01L304.22 171.14L303.34 171.58L301.82 171.58L300.88 171.14L299.74 170.01L299.24 168.58L299.17 167.45L299.74 165.76L300.88 164.64ZM270.83 162.26L270.32 162.64L269.00 163.95L268.55 164.70L267.92 166.58L267.86 168.83L268.62 171.20L268.81 171.51L270.76 173.45L272.22 174.20L272.78 174.33L275.25 174.33L275.75 174.20L276.82 173.64L277.33 174.14L277.90 174.33L278.47 174.26L278.91 174.01L279.22 173.64L279.41 173.08L279.41 162.64L279.16 162.01L278.66 161.58L278.28 161.45L277.52 161.51L276.76 162.08L275.81 161.58L275.06 161.39L272.91 161.39L272.22 161.58ZM273.16 164.20L274.80 164.20L275.69 164.64L276.64 165.58L276.64 170.20L275.75 171.08L274.74 171.58L273.23 171.58L272.34 171.14L271.14 169.95L270.64 168.45L270.64 167.33L271.21 165.70L272.28 164.64ZM267.04 161.64L266.28 161.39L264.14 161.39L263.44 161.58L261.80 162.45L261.55 161.95L261.17 161.64L260.73 161.45L260.16 161.45L259.72 161.64L259.27 162.08L259.02 162.83L259.02 172.95L259.21 173.58L259.65 174.08L260.28 174.33L261.04 174.20L261.61 173.70L261.86 172.95L261.86 167.26L262.37 165.76L263.50 164.64L264.39 164.20L266.35 164.20L266.85 164.08L267.17 163.89L267.61 163.26L267.67 162.51L267.48 162.08ZM254.86 161.45L254.10 161.51L253.85 161.64L253.40 162.08L252.33 161.58L251.64 161.39L249.17 161.45L247.41 162.26L246.96 162.58L245.51 164.01L245.20 164.51L244.38 167.14L244.38 168.58L244.50 169.20L245.13 171.08L245.51 171.76L247.09 173.26L247.53 173.58L248.79 174.20L249.30 174.33L251.83 174.33L252.33 174.20L253.15 173.76L253.21 173.83L253.15 174.33L252.65 175.83L252.14 176.26L251.38 176.64L249.74 176.64L248.29 175.95L247.53 176.01L246.90 176.45L246.65 176.95L246.65 177.64L246.77 177.95L247.41 178.58L248.79 179.26L249.24 179.39L251.89 179.39L252.33 179.26L253.72 178.58L254.16 178.26L254.86 177.58L255.23 176.95L255.93 174.89L255.99 174.45L255.99 162.76L255.87 162.26L255.68 161.95L255.23 161.58ZM249.74 164.20L251.38 164.20L252.27 164.64L253.21 165.58L253.21 170.14L252.39 171.01L251.32 171.58L249.80 171.58L248.73 171.01L247.78 170.08L247.22 168.45L247.22 167.26L247.72 165.76L248.86 164.64ZM233.45 162.26L231.43 164.26L230.55 166.64L230.49 167.14L230.55 169.08L231.24 171.14L231.62 171.76L233.08 173.20L233.52 173.51L234.91 174.20L235.41 174.33L237.87 174.33L238.38 174.20L239.45 173.64L240.08 174.20L240.52 174.33L241.09 174.26L241.47 174.08L241.91 173.58L242.10 172.95L242.10 162.83L241.85 162.08L241.41 161.64L240.97 161.45L240.21 161.51L239.77 161.76L239.51 162.08L239.39 162.08L238.44 161.58L237.75 161.39L235.54 161.39L234.84 161.58ZM235.85 164.20L237.49 164.20L238.44 164.70L239.26 165.51L239.26 170.20L238.32 171.14L237.43 171.58L235.92 171.58L234.97 171.14L233.83 170.01L233.33 168.58L233.26 167.45L233.83 165.76L234.97 164.64ZM207.76 161.39L207.00 161.58L205.74 162.20L205.23 162.58L203.78 164.01L203.53 164.39L202.71 166.70L202.65 167.14L202.71 169.08L202.84 169.26L203.40 171.14L203.66 171.58L205.23 173.20L205.68 173.51L207.07 174.20L207.57 174.33L210.03 174.33L210.60 174.20L212.05 173.45L213.82 171.76L214.20 171.08L214.20 170.45L214.01 170.01L213.63 169.64L213.25 169.45L212.49 169.45L211.80 169.83L210.47 171.14L209.59 171.58L208.08 171.58L207.07 171.08L205.99 170.01L205.55 168.58L205.61 168.51L213.06 168.51L213.57 168.33L214.01 167.89L214.26 167.14L214.26 165.70L214.07 165.01L213.38 163.64L213.13 163.26L212.43 162.58L211.99 162.26L210.22 161.45ZM205.82 166.55L206.98 165.40L207.93 164.93L209.71 164.93L210.66 165.40L211.14 165.88L211.48 166.55L211.41 166.62L205.89 166.62ZM284.27 156.39L283.77 156.64L283.52 156.89L283.26 157.39L283.20 157.70L283.20 161.33L282.13 161.45L281.69 161.64L281.24 162.08L281.12 162.33L281.05 163.08L281.37 163.70L281.75 164.01L282.38 164.20L283.14 164.20L283.20 164.26L283.20 170.08L283.26 170.51L283.96 172.58L284.21 173.01L284.78 173.51L286.17 174.20L286.67 174.33L288.44 174.33L289.07 174.08L289.39 173.76L289.64 173.20L289.64 172.70L289.51 172.33L289.07 171.83L288.44 171.58L287.18 171.58L286.61 171.33L286.42 171.08L286.04 169.95L286.04 164.26L286.10 164.20L287.56 164.20L288.31 163.95L288.69 163.58L288.88 163.20L288.88 162.45L288.63 161.95L288.19 161.58L287.56 161.39L286.10 161.39L286.04 161.33L286.04 157.76L285.92 157.26L285.66 156.83L285.28 156.51L284.97 156.39ZM226.45 156.39L226.00 156.58L225.63 156.95L225.37 157.58L225.37 173.08L225.56 173.64L225.88 174.01L226.32 174.26L226.89 174.33L227.20 174.26L227.65 174.01L227.96 173.64L228.15 173.08L228.15 157.58L228.02 157.14L227.52 156.58L227.08 156.39ZM222.72 156.39L222.41 156.33L220.58 156.39L218.56 157.39L218.05 158.14L217.48 159.95L217.36 160.14L217.42 160.26L217.29 160.64L217.29 161.33L216.22 161.45L215.78 161.64L215.34 162.08L215.15 162.51L215.21 163.26L215.65 163.89L216.16 164.14L217.29 164.26L217.29 172.95L217.55 173.70L218.11 174.20L218.56 174.33L219.12 174.26L219.50 174.08L219.94 173.58L220.13 172.95L220.13 164.26L220.20 164.20L221.65 164.20L222.41 163.95L222.78 163.58L222.97 163.20L222.97 162.45L222.85 162.14L222.47 161.70L221.65 161.39L220.20 161.39L220.13 161.33L220.13 160.70L220.64 159.39L221.14 159.14L222.66 159.08L223.10 158.89L223.54 158.45L223.73 158.01L223.67 157.26L223.23 156.64ZM189.01 156.39L188.63 156.58L188.25 156.95L188.06 157.33L188.00 157.70L188.00 172.95L188.13 173.51L188.69 174.14L189.20 174.33L194.69 174.33L197.15 173.58L197.72 173.20L199.17 171.76L199.55 171.26L200.18 170.01L200.18 169.83L200.31 169.70L201.00 167.64L201.07 163.51L201.00 163.01L200.18 160.70L199.49 159.33L199.17 158.89L197.72 157.45L197.09 157.08L195.01 156.39L194.57 156.33L189.39 156.33ZM190.90 159.14L194.44 159.14L195.95 159.64L197.09 160.76L197.60 161.76L198.29 163.83L198.29 166.83L197.66 168.76L197.09 169.89L195.83 171.08L194.31 171.58L190.90 171.58L190.84 171.51L190.84 159.20ZM292.46 156.26L291.58 156.67L290.83 157.41L290.42 158.09L290.42 158.90L290.69 159.44L291.58 160.38L292.19 160.72L292.81 160.79L293.15 160.72L293.76 160.38L294.65 159.44L294.92 158.90L294.92 158.15L294.51 157.41L293.76 156.67L293.15 156.33Z" fill="#000" fill-rule="evenodd"/>
<path d="M544.39 161.45L543.95 161.64L543.57 161.95L543.38 162.26L543.25 162.76L543.25 172.95L543.51 173.70L543.89 174.08L544.27 174.26L544.84 174.33L545.47 174.08L545.79 173.76L545.98 173.45L546.10 172.95L546.10 162.83L545.85 162.08L545.41 161.64L544.96 161.45ZM563.79 161.64L563.35 162.08L563.10 162.83L563.10 172.95L563.22 173.45L563.41 173.76L563.73 174.08L564.11 174.26L564.68 174.33L565.31 174.08L565.69 173.70L565.95 172.95L565.95 166.26L567.60 164.64L568.48 164.20L570.13 164.20L570.77 164.58L571.21 165.89L571.21 173.01L571.27 173.33L571.46 173.70L572.03 174.20L572.73 174.33L573.43 174.08L573.75 173.76L574.00 173.14L574.00 165.51L573.24 163.08L573.05 162.76L572.48 162.26L571.08 161.58L570.39 161.39L567.91 161.45L565.88 162.45L565.63 161.95L565.00 161.51L564.24 161.45ZM553.14 161.45L551.43 162.26L550.99 162.58L549.53 164.01L549.21 164.51L548.39 167.14L548.39 168.58L548.51 169.20L549.15 171.08L549.53 171.76L551.37 173.45L552.82 174.20L553.33 174.33L555.87 174.33L556.38 174.20L557.83 173.45L559.67 171.76L560.05 171.08L560.69 169.20L560.81 168.58L560.81 167.14L559.99 164.51L559.67 164.01L558.21 162.58L557.77 162.26L555.99 161.45L555.68 161.39ZM553.78 164.20L555.42 164.20L556.31 164.64L557.45 165.76L557.96 167.26L557.96 168.45L557.39 170.08L556.44 171.01L555.36 171.58L553.84 171.58L552.76 171.01L551.81 170.08L551.24 168.45L551.24 167.26L551.75 165.76L552.89 164.64ZM522.71 162.26L520.68 164.26L519.79 166.64L519.73 167.14L519.79 169.08L520.49 171.14L520.87 171.76L522.33 173.20L522.77 173.51L524.17 174.20L524.68 174.33L527.15 174.33L527.66 174.20L528.73 173.64L529.37 174.20L529.81 174.33L530.38 174.26L530.76 174.08L531.21 173.58L531.40 172.95L531.40 162.83L531.14 162.08L530.70 161.64L530.25 161.45L529.49 161.51L529.05 161.76L528.80 162.08L528.67 162.08L527.72 161.58L527.02 161.39L524.80 161.39L524.10 161.58ZM525.12 164.20L526.77 164.20L527.72 164.70L528.54 165.51L528.54 170.20L527.59 171.14L526.70 171.58L525.18 171.58L524.23 171.14L523.09 170.01L522.58 168.58L522.52 167.45L523.09 165.76L524.23 164.64ZM506.99 161.76L506.67 162.14L506.48 162.76L506.48 172.95L506.73 173.70L507.30 174.20L508.06 174.33L508.70 174.08L509.21 173.45L509.33 172.95L509.33 166.26L510.98 164.64L511.87 164.20L513.52 164.20L514.15 164.58L514.60 165.95L514.60 173.08L514.66 173.39L514.91 173.83L515.55 174.26L516.12 174.33L516.43 174.26L516.88 174.01L517.19 173.64L517.38 173.08L517.38 165.58L516.62 163.14L516.37 162.70L515.86 162.26L514.47 161.58L513.77 161.39L511.30 161.45L510.85 161.58L509.59 162.20L509.27 162.45L509.08 162.08L508.64 161.64L508.19 161.45L507.62 161.45ZM496.84 161.39L496.15 161.58L494.88 162.20L494.37 162.58L492.91 164.01L492.66 164.39L491.83 166.70L491.90 166.76L491.77 167.14L491.83 169.08L491.96 169.26L492.53 171.14L492.79 171.58L494.37 173.20L494.81 173.51L496.21 174.20L496.72 174.33L499.19 174.33L499.76 174.20L501.22 173.45L503.18 171.51L503.37 171.20L504.13 168.83L504.07 166.58L503.25 164.33L502.99 163.95L501.60 162.58L501.15 162.26L499.38 161.45ZM497.16 164.20L498.81 164.20L499.70 164.64L500.77 165.70L501.34 167.33L501.34 168.45L500.84 169.95L499.63 171.14L498.75 171.58L497.22 171.58L496.21 171.08L495.13 170.01L494.62 168.51L494.62 167.26L495.13 165.76L496.27 164.64ZM474.84 161.39L474.08 161.58L472.82 162.20L472.31 162.58L470.85 164.01L470.60 164.39L469.77 166.70L469.71 167.14L469.77 169.08L469.90 169.26L470.47 171.14L470.72 171.58L472.31 173.20L472.75 173.51L474.15 174.20L474.65 174.33L477.13 174.33L477.70 174.20L479.16 173.45L480.93 171.76L481.31 171.08L481.31 170.45L481.12 170.01L480.74 169.64L480.36 169.45L479.60 169.45L478.90 169.83L477.57 171.14L476.68 171.58L475.16 171.58L474.15 171.08L473.07 170.01L472.62 168.58L472.69 168.51L480.17 168.51L480.68 168.33L481.12 167.89L481.37 167.14L481.37 165.70L481.18 165.01L480.49 163.64L480.23 163.26L479.54 162.58L479.09 162.26L477.32 161.45ZM472.90 166.55L474.06 165.40L475.02 164.93L476.80 164.93L477.76 165.40L478.24 165.88L478.58 166.55L478.51 166.62L472.96 166.62ZM536.28 156.39L535.83 156.58L535.39 157.01L535.20 157.51L535.20 161.33L535.14 161.39L534.38 161.39L533.87 161.51L533.55 161.70L533.23 162.01L533.04 162.39L532.98 162.95L533.11 163.39L533.61 163.95L534.06 164.14L535.20 164.26L535.20 170.26L536.09 172.89L536.40 173.26L536.85 173.58L538.12 174.20L538.62 174.33L540.40 174.33L540.97 174.14L541.41 173.70L541.60 173.33L541.60 172.58L541.41 172.20L540.84 171.70L540.40 171.58L539.13 171.58L538.43 171.20L537.99 169.89L537.99 164.26L538.05 164.20L539.51 164.20L540.27 163.95L540.72 163.51L540.84 163.26L540.91 162.58L540.72 162.08L540.27 161.64L539.51 161.39L538.05 161.39L537.99 161.33L537.99 157.70L537.93 157.33L537.74 156.95L537.36 156.58L536.91 156.39ZM485.49 156.39L484.99 156.64L484.73 156.89L484.48 157.39L484.42 157.70L484.42 161.33L483.34 161.45L482.90 161.64L482.45 162.08L482.32 162.33L482.26 163.08L482.58 163.70L482.96 164.01L483.59 164.20L484.35 164.20L484.42 164.26L484.42 170.08L484.48 170.51L485.18 172.58L485.43 173.01L486.00 173.51L487.40 174.20L487.90 174.33L489.68 174.33L490.31 174.08L490.63 173.76L490.88 173.20L490.88 172.70L490.76 172.33L490.31 171.83L489.68 171.58L488.41 171.58L487.84 171.33L487.65 171.08L487.27 169.95L487.27 164.26L487.33 164.20L488.79 164.20L489.55 163.95L489.93 163.58L490.12 163.20L490.12 162.45L489.87 161.95L489.43 161.58L488.79 161.39L487.33 161.39L487.27 161.33L487.27 157.76L487.14 157.26L486.89 156.83L486.51 156.51L486.19 156.39ZM456.01 156.39L455.63 156.58L455.25 156.95L455.06 157.33L455.00 157.70L455.00 172.95L455.13 173.51L455.70 174.14L456.20 174.33L461.72 174.33L464.19 173.58L464.76 173.20L466.22 171.76L466.60 171.26L467.24 170.01L467.24 169.83L467.36 169.70L468.06 167.64L468.12 163.51L468.06 163.01L467.24 160.70L466.54 159.33L466.22 158.89L464.76 157.45L464.13 157.08L462.04 156.39L461.59 156.33L456.39 156.33ZM457.92 159.14L461.47 159.14L462.99 159.64L464.13 160.76L464.64 161.76L465.33 163.83L465.33 166.83L464.70 168.76L464.13 169.89L462.86 171.08L461.34 171.58L457.92 171.58L457.85 171.51L457.85 159.20ZM544.43 156.27L543.61 156.68L542.72 157.55L542.38 158.23L542.38 158.84L542.79 159.58L543.61 160.39L544.02 160.66L544.84 160.79L545.73 160.39L546.55 159.58L546.90 158.97L546.97 158.36L546.83 157.89L546.55 157.49L545.73 156.68L544.91 156.27Z" fill="#000" fill-rule="evenodd"/>
<path d="M327.60 384.95L327.22 385.07L326.77 385.45L326.58 385.76L326.45 386.26L326.45 396.51L326.58 397.01L327.15 397.64L327.98 397.82L328.68 397.57L329.00 397.26L329.25 396.64L329.25 386.07L329.06 385.57L328.62 385.14L328.17 384.95ZM278.69 385.01L278.44 385.14L277.99 385.57L277.80 386.01L277.87 386.89L282.25 396.95L282.70 397.51L283.14 397.76L283.84 397.82L284.23 397.70L284.73 397.26L285.05 396.70L289.06 387.39L289.31 386.95L289.38 386.70L289.31 385.76L288.87 385.20L288.30 384.95L287.53 385.01L287.28 385.14L286.83 385.57L283.78 392.57L283.59 392.82L283.33 392.39L280.54 385.82L280.09 385.26L279.46 384.95ZM346.87 385.26L346.55 385.64L346.36 386.26L346.36 396.45L346.62 397.20L347.19 397.70L347.95 397.82L348.59 397.57L349.10 396.95L349.22 396.45L349.22 389.76L350.88 388.14L351.77 387.70L353.42 387.70L354.06 388.07L354.50 389.45L354.50 396.57L354.57 396.89L354.82 397.32L355.46 397.76L356.03 397.82L356.35 397.76L356.79 397.51L357.11 397.14L357.30 396.57L357.30 389.07L356.54 386.64L356.28 386.20L355.77 385.76L354.37 385.07L353.67 384.89L351.19 384.95L350.75 385.07L349.48 385.70L349.16 385.95L348.97 385.57L348.52 385.14L348.08 384.95L347.51 384.95ZM336.69 384.89L335.99 385.07L334.72 385.70L334.21 386.07L332.75 387.51L332.50 387.89L331.67 390.20L331.73 390.26L331.61 390.64L331.67 392.57L331.80 392.76L332.37 394.64L332.62 395.07L334.21 396.70L334.66 397.01L336.06 397.70L336.57 397.82L339.05 397.82L339.62 397.70L341.08 396.95L343.05 395.01L343.24 394.70L344.01 392.32L343.94 390.07L343.12 387.82L342.86 387.45L341.46 386.07L341.02 385.76L339.24 384.95ZM337.01 387.70L338.67 387.70L339.56 388.14L340.64 389.20L341.21 390.82L341.21 391.95L340.70 393.45L339.49 394.64L338.60 395.07L337.08 395.07L336.06 394.57L334.98 393.51L334.47 392.01L334.47 390.76L334.98 389.26L336.12 388.14ZM308.71 384.89L308.01 385.07L306.61 385.76L306.17 386.07L304.70 387.51L304.39 388.01L303.69 390.07L303.56 390.64L303.56 392.07L303.69 392.70L304.51 394.95L304.70 395.26L306.29 396.76L306.74 397.07L308.01 397.70L308.52 397.82L311.06 397.82L311.57 397.70L313.04 396.95L314.88 395.26L315.20 394.64L315.20 393.89L315.01 393.51L314.63 393.14L314.24 392.95L313.48 392.95L312.97 393.20L311.64 394.51L310.56 395.07L309.03 395.07L308.14 394.64L306.99 393.57L306.42 391.95L306.42 390.76L306.93 389.26L308.07 388.14L308.97 387.70L310.62 387.70L311.51 388.14L313.10 389.64L313.54 389.82L314.12 389.82L314.69 389.57L315.07 389.14L315.20 388.82L315.20 388.07L314.88 387.51L313.42 386.07L312.97 385.76L311.19 384.95ZM295.42 384.89L294.72 385.07L293.32 385.76L292.81 386.14L291.48 387.45L291.03 388.20L290.39 390.07L290.33 392.32L291.09 394.70L291.28 395.01L293.26 396.95L294.72 397.70L295.29 397.82L297.77 397.82L298.28 397.70L299.68 397.01L300.12 396.70L301.59 395.26L301.91 394.70L301.97 394.39L301.78 393.57L301.14 393.01L300.19 392.95L299.62 393.26L298.28 394.57L297.26 395.07L295.74 395.07L294.85 394.64L293.64 393.45L293.19 392.07L293.26 392.01L300.76 392.01L301.40 391.76L301.71 391.45L301.91 391.07L301.97 389.07L301.84 388.57L301.02 387.01L300.12 386.07L299.62 385.70L298.34 385.07L297.58 384.89ZM293.46 390.05L294.63 388.90L295.59 388.43L297.38 388.43L298.34 388.90L298.89 389.44L299.16 389.98L299.10 390.12L293.53 390.12ZM265.72 385.26L265.40 385.64L265.21 386.26L265.21 396.45L265.46 397.20L266.04 397.70L266.80 397.82L267.44 397.57L267.94 396.95L268.07 396.45L268.07 389.76L269.72 388.14L270.62 387.70L272.27 387.70L272.90 388.07L273.35 389.45L273.35 396.57L273.41 396.89L273.67 397.32L274.30 397.76L274.88 397.82L275.19 397.76L275.64 397.51L275.96 397.14L276.15 396.57L276.15 389.07L275.39 386.64L275.13 386.20L274.62 385.76L273.22 385.07L272.52 384.89L270.04 384.95L269.60 385.07L268.33 385.70L268.01 385.95L267.82 385.57L267.37 385.14L266.93 384.95L266.35 384.95ZM255.54 384.89L254.84 385.07L253.57 385.70L253.06 386.07L251.60 387.51L251.34 387.89L250.52 390.20L250.58 390.26L250.45 390.64L250.52 392.57L250.65 392.76L251.22 394.64L251.47 395.07L253.06 396.70L253.51 397.01L254.91 397.70L255.42 397.82L257.90 397.82L258.47 397.70L259.93 396.95L261.90 395.01L262.09 394.70L262.86 392.32L262.79 390.07L261.97 387.82L261.71 387.45L260.31 386.07L259.87 385.76L258.09 384.95ZM255.86 387.70L257.51 387.70L258.40 388.14L259.49 389.20L260.06 390.82L260.06 391.95L259.55 393.45L258.34 394.64L257.45 395.07L255.92 395.07L254.91 394.57L253.83 393.51L253.32 392.01L253.32 390.76L253.83 389.26L254.97 388.14ZM319.40 379.89L319.08 380.01L318.70 380.32L318.38 380.95L318.31 381.26L318.31 384.82L317.23 384.95L316.79 385.14L316.28 385.70L316.15 386.07L316.15 386.51L316.34 387.01L316.79 387.45L317.23 387.64L318.31 387.76L318.31 393.51L318.44 394.14L319.27 396.39L319.90 397.01L321.30 397.70L321.81 397.82L323.59 397.82L324.04 397.70L324.61 397.20L324.80 396.76L324.80 396.14L324.61 395.70L324.04 395.20L323.59 395.07L322.32 395.07L321.68 394.76L321.56 394.57L321.18 393.45L321.18 387.76L321.24 387.70L322.70 387.70L323.47 387.45L323.97 386.89L324.10 386.14L323.85 385.51L323.21 385.01L322.70 384.89L321.24 384.89L321.18 384.82L321.18 381.20L321.05 380.70L320.86 380.39L320.41 380.01L320.09 379.89ZM240.79 379.82L240.09 380.01L238.69 380.70L236.59 382.76L235.70 384.57L235.06 386.45L235.00 386.82L235.00 390.89L235.76 393.26L236.59 394.89L236.84 395.26L238.31 396.70L238.75 397.01L240.15 397.70L240.66 397.82L243.90 397.82L244.41 397.70L245.81 397.01L246.26 396.70L247.72 395.26L248.04 394.82L248.74 393.45L248.80 393.20L248.74 392.26L248.16 391.64L247.85 391.51L247.34 391.45L246.64 391.70L246.13 392.26L245.56 393.45L244.35 394.64L243.40 395.07L241.17 395.07L240.15 394.57L239.01 393.45L238.31 392.01L237.80 390.45L237.80 387.20L238.37 385.51L238.94 384.32L240.28 383.01L241.04 382.64L243.52 382.64L244.29 383.01L245.49 384.14L246.26 385.57L246.70 386.01L247.15 386.20L247.72 386.20L248.10 386.07L248.55 385.70L248.80 385.20L248.80 384.45L248.74 384.20L247.72 382.39L246.26 380.95L245.88 380.70L244.48 380.01L243.78 379.82ZM327.65 379.76L326.75 380.17L325.86 381.11L325.59 381.65L325.59 382.39L325.86 382.93L326.82 383.88L327.24 384.15L327.99 384.28L328.33 384.22L328.95 383.88L329.78 383.07L330.12 382.39L330.12 381.58L329.78 380.98L328.95 380.17L328.13 379.76Z" fill="#000" fill-rule="evenodd"/>
<path d="M418.46 581.86L418.15 582.24L417.96 582.86L417.96 590.17L418.02 590.61L418.71 592.67L418.96 593.11L419.53 593.61L420.91 594.30L421.42 594.42L424.18 594.36L426.00 593.42L426.32 593.92L426.95 594.36L427.51 594.42L427.83 594.36L428.27 594.11L428.58 593.74L428.77 593.17L428.77 582.74L428.52 582.11L427.89 581.61L427.14 581.55L426.57 581.80L426.26 582.11L426.00 582.74L426.00 589.55L424.31 591.24L423.43 591.67L421.92 591.67L421.23 591.30L420.79 590.05L420.79 582.92L420.54 582.17L420.10 581.74L419.66 581.55L419.09 581.55ZM445.62 581.49L444.92 581.67L443.54 582.36L441.53 584.36L441.34 584.67L440.59 587.05L440.65 589.24L441.28 591.11L441.53 591.61L443.42 593.49L445.18 594.36L447.94 594.42L448.44 594.30L449.83 593.61L450.27 593.30L451.71 591.86L452.09 591.11L452.03 590.42L451.77 589.99L451.40 589.67L451.08 589.55L450.33 589.55L449.70 589.92L448.38 591.24L447.63 591.61L445.93 591.67L445.05 591.24L443.92 590.11L443.48 588.67L443.54 588.61L450.96 588.61L451.33 588.49L451.84 588.05L452.09 587.49L452.09 585.61L451.96 585.11L451.33 583.86L450.96 583.36L449.89 582.36L448.51 581.67L447.82 581.49ZM443.98 585.74L444.92 584.80L445.87 584.30L447.50 584.30L448.38 584.74L448.88 585.24L449.13 585.80L449.07 585.86L444.04 585.86ZM439.77 581.74L439.02 581.49L436.88 581.49L436.19 581.67L434.55 582.55L434.30 582.05L433.86 581.67L433.48 581.55L432.92 581.55L432.48 581.74L432.04 582.17L431.85 582.67L431.85 593.24L432.10 593.86L432.42 594.17L433.11 594.42L433.80 594.30L434.36 593.80L434.55 593.42L434.62 593.11L434.62 587.42L435.18 585.80L436.25 584.74L437.13 584.30L439.08 584.30L439.58 584.17L439.90 583.99L440.34 583.42L440.40 582.55L440.15 582.05ZM397.59 582.36L395.58 584.36L394.70 586.74L394.64 587.24L394.70 589.17L395.39 591.24L395.77 591.86L397.22 593.30L397.66 593.61L399.04 594.30L399.54 594.42L401.99 594.42L402.50 594.30L403.57 593.74L404.19 594.30L404.63 594.42L405.20 594.36L405.58 594.17L406.02 593.67L406.21 593.05L406.21 582.92L405.95 582.17L405.51 581.74L405.07 581.55L404.32 581.61L403.88 581.86L403.63 582.17L403.50 582.17L402.56 581.67L401.87 581.49L399.67 581.49L398.98 581.67ZM399.98 584.30L401.62 584.30L402.56 584.80L403.38 585.61L403.38 590.30L402.43 591.24L401.55 591.67L400.05 591.67L399.10 591.24L397.97 590.11L397.47 588.67L397.41 587.55L397.97 585.86L399.10 584.74ZM393.76 581.67L393.13 581.49L390.93 581.49L390.24 581.67L388.86 582.36L388.67 582.55L388.42 582.11L388.10 581.80L387.54 581.55L386.78 581.61L386.15 582.11L385.90 582.74L385.90 593.17L386.09 593.74L386.59 594.24L387.16 594.42L387.73 594.36L388.17 594.11L388.61 593.49L388.67 593.17L388.67 587.49L389.17 585.92L390.24 584.80L391.18 584.30L393.13 584.30L393.89 584.05L394.26 583.67L394.45 583.30L394.45 582.55L394.20 582.05ZM377.10 581.49L376.41 581.67L375.03 582.36L374.59 582.67L373.14 584.11L372.83 584.61L372.07 586.92L372.01 588.67L372.14 589.30L372.95 591.55L373.14 591.86L374.71 593.36L375.15 593.67L376.41 594.30L376.91 594.42L379.43 594.42L379.93 594.30L381.38 593.55L383.20 591.86L383.51 591.24L383.51 590.49L383.33 590.11L382.95 589.74L382.57 589.55L381.82 589.55L381.31 589.80L379.99 591.11L378.93 591.67L377.42 591.67L376.35 591.11L375.41 590.17L374.90 588.67L374.97 588.61L382.38 588.61L382.63 588.55L383.07 588.30L383.45 587.80L383.58 587.30L383.58 585.74L383.45 585.17L382.76 583.80L382.45 583.36L381.75 582.67L381.31 582.36L379.55 581.55ZM375.41 585.80L376.47 584.74L377.35 584.30L378.99 584.30L379.87 584.74L380.31 585.17L380.62 585.80L380.56 585.86L375.47 585.86ZM365.92 581.61L365.41 581.49L363.21 581.49L362.52 581.67L361.45 582.17L360.95 581.67L360.57 581.55L360.01 581.55L359.57 581.74L359.06 582.30L358.94 582.67L358.94 598.36L359.19 598.92L359.69 599.36L360.07 599.49L360.76 599.42L361.20 599.17L361.58 598.67L361.70 598.17L361.70 593.92L361.77 593.86L362.58 594.30L363.09 594.42L365.54 594.42L366.04 594.30L367.42 593.61L367.86 593.30L369.31 591.86L369.75 591.11L370.38 589.24L370.44 587.11L369.69 584.67L369.37 584.17L367.74 582.55ZM363.53 584.30L365.16 584.30L366.10 584.80L367.17 585.92L367.68 587.49L367.68 588.49L367.11 590.11L365.98 591.24L365.10 591.67L363.40 591.61L362.65 591.24L361.70 590.30L361.70 585.67L362.65 584.74ZM337.25 582.17L337.06 582.67L337.06 593.24L337.32 593.86L337.63 594.17L338.32 594.42L338.82 594.36L339.14 594.24L339.70 593.61L339.83 593.11L339.83 586.36L341.46 584.74L342.34 584.30L343.98 584.30L344.48 584.55L344.67 584.80L345.05 585.92L345.05 593.05L345.30 593.80L345.68 594.17L346.30 594.42L346.87 594.36L347.25 594.17L347.75 593.55L347.88 593.05L347.88 586.36L349.51 584.74L350.39 584.30L352.02 584.30L352.53 584.55L352.65 584.67L353.09 586.05L353.09 593.17L353.28 593.74L353.78 594.24L354.35 594.42L354.92 594.36L355.17 594.24L355.67 593.74L355.86 593.17L355.86 585.67L355.10 583.24L354.85 582.80L354.35 582.36L352.59 581.55L350.14 581.49L349.38 581.67L348.13 582.30L347.06 583.17L346.87 582.86L346.24 582.30L344.98 581.67L344.23 581.49L341.78 581.55L340.02 582.36L339.83 582.55L339.70 582.49L339.64 582.24L339.26 581.80L338.70 581.55L337.94 581.61L337.69 581.74ZM328.27 581.49L327.51 581.67L326.25 582.30L325.75 582.67L324.31 584.11L324.05 584.49L323.24 586.80L323.17 587.24L323.24 589.17L323.36 589.36L323.93 591.24L324.18 591.67L325.75 593.30L326.19 593.61L327.57 594.30L328.08 594.42L330.53 594.42L331.09 594.30L332.54 593.55L334.30 591.86L334.68 591.17L334.68 590.55L334.49 590.11L334.11 589.74L333.73 589.55L332.98 589.55L332.29 589.92L330.97 591.24L330.09 591.67L328.58 591.67L327.57 591.17L326.51 590.11L326.07 588.67L326.13 588.61L333.54 588.61L334.05 588.42L334.49 587.99L334.74 587.24L334.74 585.80L334.55 585.11L333.86 583.74L333.61 583.36L332.92 582.67L332.48 582.36L330.72 581.55ZM326.57 585.80L327.64 584.74L328.52 584.30L330.15 584.30L331.03 584.74L331.47 585.17L331.78 585.80L331.72 585.86L326.63 585.86ZM482.45 576.49L481.95 576.74L479.87 578.80L478.43 579.55L477.99 579.99L477.86 580.24L477.80 580.99L478.05 581.55L478.30 581.80L478.80 582.05L479.81 581.99L481.32 581.17L481.38 581.24L481.38 593.05L481.57 593.67L482.01 594.17L482.39 594.36L482.95 594.42L483.39 594.30L483.96 593.80L484.21 593.05L484.21 577.80L484.02 577.17L483.64 576.74L483.14 576.49ZM411.04 576.49L410.60 576.67L410.16 577.11L409.98 577.61L409.98 581.42L409.91 581.49L409.16 581.49L408.66 581.61L408.34 581.80L408.03 582.11L407.84 582.49L407.78 583.05L407.90 583.49L408.41 584.05L408.84 584.24L409.98 584.36L409.98 590.36L410.86 592.99L411.17 593.36L411.61 593.67L412.87 594.30L413.37 594.42L415.13 594.42L415.70 594.24L416.14 593.80L416.32 593.42L416.32 592.67L416.14 592.30L415.57 591.80L415.13 591.67L413.87 591.67L413.18 591.30L412.74 589.99L412.74 584.36L412.80 584.30L414.25 584.30L415.00 584.05L415.44 583.61L415.57 583.36L415.63 582.67L415.44 582.17L415.00 581.74L414.25 581.49L412.80 581.49L412.74 581.42L412.74 577.80L412.68 577.42L412.49 577.05L412.11 576.67L411.67 576.49ZM495.90 576.42L495.46 576.49L493.38 577.17L492.94 577.42L492.50 577.86L491.12 579.92L490.87 580.55L490.18 583.99L490.18 586.92L490.87 590.36L491.18 591.05L492.57 593.11L493.32 593.67L495.40 594.36L497.53 594.42L499.98 593.67L500.74 593.11L502.12 591.05L502.44 590.36L503.13 586.92L503.13 583.99L502.44 580.55L502.18 579.92L500.80 577.86L500.36 577.42L499.92 577.17L497.85 576.49ZM496.02 579.24L497.28 579.24L498.60 579.67L498.79 579.86L499.73 581.30L500.36 584.36L500.36 586.49L499.73 589.55L498.85 590.92L498.60 591.17L497.16 591.67L496.15 591.67L494.58 591.11L493.57 589.55L492.94 586.49L492.94 584.36L493.57 581.30L494.70 579.67ZM310.79 576.61L310.41 576.92L310.10 577.55L310.16 578.30L310.29 578.55L310.73 578.99L311.48 579.24L315.13 579.24L315.19 579.30L315.19 593.24L315.44 593.86L315.76 594.17L316.45 594.42L316.95 594.36L317.27 594.24L317.71 593.80L317.96 593.11L317.96 579.30L318.02 579.24L321.67 579.24L322.17 579.11L322.80 578.61L323.05 577.99L322.99 577.42L322.80 577.05L322.42 576.67L321.67 576.42L311.42 576.42ZM472.45 573.55L472.01 573.67L471.64 573.92L469.81 575.80L468.37 577.99L466.99 580.74L466.99 580.92L466.80 581.30L466.11 584.74L466.17 584.86L466.11 584.92L466.11 588.11L466.17 588.17L466.11 588.30L466.80 591.74L466.99 592.11L466.99 592.30L468.49 595.30L470.13 597.67L471.57 599.11L472.14 599.42L472.83 599.49L473.40 599.24L473.84 598.74L473.96 598.36L473.90 597.67L473.59 597.11L472.08 595.61L470.95 593.92L469.56 591.17L468.87 587.86L468.87 585.17L469.56 581.86L470.88 579.24L472.14 577.36L473.59 575.92L473.96 575.11L473.96 574.74L473.71 574.11L473.40 573.80L473.02 573.61ZM506.46 574.81L505.52 575.12L504.95 575.44L504.57 575.88L504.20 576.62L504.07 577.19L504.07 578.00L504.20 578.56L504.64 579.38L504.45 579.50L504.20 579.88L503.76 580.88L503.69 581.19L503.76 582.62L504.45 584.00L504.82 584.38L505.45 584.75L506.77 585.12L508.91 585.06L509.85 584.75L510.48 584.38L511.11 583.62L511.55 582.62L511.61 582.31L511.55 580.88L511.11 579.88L510.86 579.50L510.67 579.38L511.17 578.31L511.24 578.00L511.17 576.88L510.54 575.62L509.79 575.12L508.41 574.75ZM506.52 581.44L506.90 581.00L507.72 580.75L508.41 581.00L508.78 581.44L508.78 582.06L508.16 582.38L507.15 582.38L506.52 582.06ZM506.90 577.62L507.21 577.50L508.09 577.50L508.41 577.62L507.78 577.88L507.28 577.81ZM525.19 576.67L524.69 577.24L524.56 577.67L524.56 593.17L524.62 593.49L524.88 593.92L525.50 594.36L526.07 594.42L526.64 594.24L527.14 593.74L527.33 593.17L527.33 588.55L529.46 586.49L534.99 593.86L535.56 594.30L536.00 594.42L536.57 594.36L536.94 594.17L537.38 593.67L537.51 593.30L537.51 592.80L537.26 592.17L531.60 584.74L531.47 584.42L537.13 578.80L537.51 578.11L537.51 577.55L537.19 576.92L536.82 576.61L536.50 576.49L535.81 576.49L535.12 576.86L527.39 584.55L527.33 584.49L527.33 577.67L527.08 577.05L526.70 576.67L526.45 576.55L525.63 576.49ZM540.40 573.55L539.83 573.74L539.33 574.24L539.14 574.80L539.21 575.36L539.52 575.92L540.84 577.17L542.35 579.42L543.61 581.99L544.23 585.11L544.23 587.99L543.54 591.24L542.29 593.74L540.90 595.80L539.33 597.42L539.14 597.99L539.21 598.55L539.39 598.92L539.71 599.24L540.09 599.42L540.71 599.49L541.53 599.11L543.23 597.36L544.61 595.30L546.12 592.30L546.31 591.80L547.00 588.36L547.00 584.67L546.31 581.24L544.61 577.74L542.98 575.36L541.53 573.92L540.97 573.61Z" fill="#000" fill-rule="evenodd"/>
<path d="M71.74 347.42L71.55 347.86L71.55 348.42L71.86 349.05L72.43 349.49L72.86 349.61L79.43 352.49L79.18 352.68L72.18 355.68L71.74 356.12L71.61 356.37L71.55 357.12L71.80 357.69L72.24 358.06L72.55 358.19L73.55 358.13L82.74 354.12L83.05 354.06L85.18 355.12L86.24 356.19L86.74 357.19L86.74 357.62L86.86 358.13L87.30 358.69L87.86 358.94L88.43 358.94L88.86 358.75L89.30 358.31L89.49 357.81L89.49 356.62L89.36 356.19L88.49 354.56L86.55 352.68L83.55 351.18L73.49 346.86L72.61 346.79L72.18 346.98ZM71.55 370.21L71.74 370.65L72.05 371.02L72.36 371.21L72.86 371.34L83.05 371.34L83.80 371.08L84.18 370.71L84.36 370.33L84.43 369.77L84.18 369.14L83.86 368.83L83.55 368.64L83.05 368.52L72.93 368.52L72.18 368.77L71.74 369.21L71.55 369.64ZM72.24 382.60L72.49 383.04L73.11 383.61L74.36 384.23L74.80 384.36L75.36 384.36L75.74 384.23L77.30 383.42L77.80 382.85L78.49 381.48L78.68 380.91L79.36 377.47L79.80 376.72L80.55 376.41L81.05 376.66L81.24 376.84L81.61 377.91L81.68 379.85L81.24 381.23L80.30 381.73L79.74 382.23L79.55 382.60L79.55 383.35L79.68 383.67L80.05 384.11L80.61 384.36L81.18 384.36L81.55 384.23L82.93 383.54L83.43 383.10L83.68 382.67L84.43 380.22L84.36 377.41L83.68 375.34L83.36 374.84L82.93 374.47L81.55 373.78L81.11 373.65L79.93 373.65L79.49 373.78L77.86 374.65L77.43 375.15L76.74 376.53L76.74 376.72L76.55 377.09L75.93 380.41L75.55 381.16L75.18 381.41L74.99 381.41L74.68 381.10L74.30 379.97L74.30 378.03L74.74 376.78L75.68 376.28L76.30 375.65L76.43 375.28L76.43 374.72L76.24 374.28L75.80 373.84L75.30 373.65L74.86 373.65L74.43 373.78L72.86 374.59L72.30 375.28L71.49 377.91L71.49 380.10ZM71.74 396.81L72.18 397.25L72.68 397.44L83.24 397.44L83.86 397.19L84.18 396.88L84.36 396.50L84.43 395.94L84.24 395.37L83.61 394.81L83.11 394.69L76.36 394.69L74.74 393.06L74.30 392.18L74.30 390.55L74.68 389.93L75.93 389.49L83.05 389.49L83.80 389.24L84.30 388.68L84.43 387.92L84.18 387.30L83.68 386.86L83.05 386.67L75.80 386.67L73.30 387.42L72.86 387.67L72.30 388.30L71.68 389.55L71.49 390.30L71.55 392.75L72.36 394.50L72.55 394.69L72.49 394.81L72.05 395.00L71.68 395.44L71.55 395.81L71.55 396.38ZM71.49 406.21L71.68 406.96L72.30 408.21L72.68 408.71L74.11 410.15L74.49 410.40L76.80 411.21L77.24 411.28L79.18 411.21L79.36 411.09L81.24 410.52L81.68 410.27L83.30 408.71L83.61 408.27L84.30 406.89L84.43 406.39L84.43 403.95L84.30 403.39L83.55 401.95L81.86 400.20L81.18 399.82L80.55 399.82L80.11 400.01L79.74 400.38L79.55 400.76L79.55 401.51L79.93 402.20L81.24 403.51L81.68 404.39L81.68 405.89L81.18 406.89L80.11 407.96L78.68 408.40L78.61 408.33L78.61 400.95L78.43 400.45L77.99 400.01L77.24 399.76L75.80 399.76L75.11 399.94L73.74 400.63L73.36 400.88L72.68 401.57L72.36 402.01L71.55 403.76ZM75.80 407.90L74.74 406.83L74.30 405.95L74.30 404.33L74.74 403.45L75.18 403.01L75.80 402.70L75.86 402.76L75.86 407.83ZM66.49 317.25L66.86 317.93L68.93 320.00L69.68 321.44L70.05 321.75L70.36 321.88L71.11 321.88L71.49 321.69L71.86 321.31L72.05 320.94L71.99 319.94L71.18 318.44L71.24 318.31L83.11 318.31L83.61 318.18L84.24 317.62L84.43 316.81L84.18 316.12L83.86 315.81L83.24 315.56L67.61 315.56L67.11 315.74L66.68 316.18L66.49 316.62ZM66.49 363.70L66.68 364.14L67.11 364.57L67.61 364.76L71.43 364.76L71.49 364.82L71.49 365.58L71.61 366.08L71.80 366.39L72.11 366.70L72.49 366.89L73.05 366.95L73.49 366.83L74.05 366.33L74.24 365.89L74.36 364.76L80.36 364.76L82.99 363.89L83.36 363.57L83.68 363.13L84.30 361.88L84.43 361.38L84.43 359.63L84.24 359.06L83.80 358.63L83.43 358.44L82.68 358.44L82.30 358.63L81.80 359.19L81.68 359.63L81.68 360.88L81.30 361.57L79.99 362.01L74.36 362.01L74.30 361.94L74.30 360.50L74.05 359.75L73.61 359.32L73.36 359.19L72.68 359.13L72.18 359.32L71.74 359.75L71.49 360.50L71.49 361.94L71.43 362.01L67.80 362.01L67.43 362.07L67.05 362.26L66.68 362.63L66.49 363.07ZM66.43 303.85L66.49 304.29L67.36 306.73L67.99 307.35L69.86 308.61L70.43 308.86L73.86 309.55L76.55 309.61L80.43 308.86L80.99 308.61L83.05 307.23L83.43 306.85L83.68 306.42L84.36 304.35L84.43 302.28L83.68 299.84L83.43 299.40L82.99 298.97L80.93 297.59L80.24 297.34L76.80 296.65L76.74 296.71L76.55 296.65L74.30 296.65L74.11 296.71L74.05 296.65L73.74 296.77L70.68 297.34L69.93 297.59L67.80 299.03L67.49 299.34L67.18 299.90L66.61 301.72L66.49 301.91L66.55 302.03L66.43 302.41ZM69.24 303.79L69.24 302.47L69.68 301.16L71.36 300.03L74.61 299.40L76.30 299.40L79.68 300.09L81.18 301.16L81.68 302.60L81.68 303.60L81.24 304.98L81.05 305.23L79.61 306.16L76.61 306.79L74.24 306.79L71.24 306.16L69.93 305.29L69.68 305.04ZM66.49 424.80L66.68 425.17L67.05 425.55L67.43 425.74L67.80 425.80L83.05 425.80L83.61 425.67L84.24 425.11L84.43 424.61L84.43 419.16L83.68 416.72L83.30 416.16L81.86 414.72L81.36 414.34L80.11 413.72L79.93 413.72L79.80 413.59L77.74 412.90L73.61 412.84L73.11 412.90L70.80 413.72L69.43 414.41L68.99 414.72L67.55 416.16L67.18 416.79L66.49 418.85L66.43 419.29L66.43 424.42ZM69.24 422.92L69.24 419.41L69.74 417.91L70.86 416.79L71.86 416.28L73.93 415.60L76.93 415.60L78.86 416.22L79.99 416.79L81.18 418.04L81.68 419.54L81.68 422.92L81.61 422.98L69.30 422.98ZM65.74 370.15L66.11 370.90L66.93 371.71L67.55 372.02L68.11 372.02L68.80 371.65L69.55 370.90L69.80 370.52L69.93 369.77L69.55 368.96L68.80 368.20L68.24 367.89L67.68 367.83L67.24 367.95L66.86 368.20L66.11 368.96L65.74 369.71ZM63.55 327.20L63.61 327.51L63.93 328.08L65.68 329.77L67.74 331.14L67.86 331.14L70.80 332.71L75.11 333.59L77.99 333.59L81.86 332.83L84.99 331.33L87.68 329.52L89.11 328.08L89.49 327.32L89.49 326.89L89.18 326.20L88.80 325.89L88.49 325.76L87.74 325.76L87.18 326.07L85.74 327.51L83.86 328.76L81.11 330.14L78.05 330.77L75.05 330.77L71.93 330.14L68.99 328.64L67.24 327.45L65.93 326.07L65.30 325.76L64.55 325.76L64.18 325.95L63.74 326.39ZM64.75 292.14L64.81 292.64L65.13 293.58L65.38 294.02L65.81 294.46L66.75 295.08L67.31 295.33L69.13 295.71L69.19 295.65L69.38 295.71L71.38 295.71L73.25 295.21L73.63 294.96L74.38 294.21L74.75 293.58L75.06 292.64L75.13 291.64L74.63 290.08L74.38 289.70L73.63 288.95L73.13 288.64L72.06 288.26L71.94 288.32L71.56 288.20L70.75 288.26L69.56 288.70L69.25 288.95L69.13 288.95L68.56 289.58L68.38 289.20L68.00 288.82L67.63 288.64L66.88 288.64L65.88 289.07L65.44 289.45L65.13 290.01L64.81 290.95ZM70.44 292.02L70.56 291.52L70.94 291.14L71.31 291.01L71.88 291.14L72.19 291.45L72.31 291.77L72.31 292.14L72.19 292.45L71.94 292.71L71.56 292.83L71.06 292.83L70.81 292.71L70.63 292.52ZM67.56 291.89L67.50 291.70L67.69 291.33L67.75 291.45ZM72.18 236.61L72.68 236.80L83.24 236.80L83.86 236.55L84.18 236.24L84.43 235.55L84.36 235.05L84.24 234.73L83.61 234.17L83.11 234.05L76.36 234.05L74.74 232.42L74.30 231.54L74.30 229.91L74.55 229.41L74.80 229.23L75.93 228.85L83.05 228.85L83.80 228.60L84.18 228.22L84.43 227.60L84.36 227.03L84.18 226.66L83.55 226.16L83.05 226.03L76.36 226.03L74.74 224.40L74.30 223.53L74.30 221.90L74.55 221.40L74.68 221.27L76.05 220.84L83.18 220.84L83.74 220.65L84.24 220.15L84.43 219.58L84.36 219.02L84.24 218.77L83.74 218.27L83.18 218.08L75.68 218.08L73.24 218.83L72.80 219.08L72.36 219.58L71.55 221.34L71.49 223.78L71.68 224.53L72.30 225.78L73.18 226.85L72.86 227.03L72.30 227.66L71.68 228.91L71.49 229.66L71.55 232.11L72.36 233.86L72.55 234.05L72.49 234.17L72.24 234.23L71.80 234.61L71.55 235.17L71.61 235.92L71.74 236.17ZM71.49 245.56L71.68 246.32L72.30 247.57L72.68 248.07L74.11 249.51L74.49 249.76L76.80 250.57L76.86 250.51L77.24 250.64L79.18 250.57L79.36 250.45L81.24 249.88L81.68 249.63L83.30 248.07L83.61 247.63L84.30 246.25L84.43 245.75L84.43 243.31L84.30 242.75L83.55 241.31L83.30 240.99L81.61 239.37L81.18 239.18L80.36 239.24L80.11 239.37L79.74 239.74L79.55 240.12L79.55 240.87L79.93 241.56L81.24 242.87L81.68 243.75L81.68 245.25L81.18 246.25L80.11 247.32L78.61 247.82L77.36 247.82L75.86 247.32L74.74 246.19L74.30 245.31L74.30 243.69L74.74 242.81L76.24 241.25L76.43 240.81L76.43 240.24L76.11 239.62L75.74 239.30L75.43 239.18L74.74 239.18L74.05 239.56L72.68 240.93L72.36 241.37L71.55 243.12ZM71.55 265.66L71.61 266.41L71.74 266.66L72.18 267.10L72.18 267.23L71.68 268.16L71.49 268.85L71.49 270.98L71.68 271.73L72.30 272.99L72.68 273.49L74.11 274.93L74.74 275.30L76.80 275.99L76.86 275.93L77.24 276.05L79.18 275.99L79.36 275.86L81.24 275.30L81.86 274.93L83.30 273.49L83.61 273.05L84.30 271.67L84.43 271.17L84.43 268.73L84.30 268.16L83.86 267.41L83.93 267.35L84.43 267.35L85.99 267.91L86.24 268.16L86.74 269.17L86.74 270.73L86.05 272.17L86.05 272.73L86.18 273.11L86.55 273.55L87.05 273.80L87.80 273.80L88.18 273.61L88.68 273.05L89.43 271.48L89.49 271.23L89.49 268.60L89.36 268.16L88.68 266.79L87.68 265.66L87.36 265.47L84.99 264.60L84.86 264.66L84.49 264.53L72.86 264.53L72.36 264.66L72.05 264.85L71.74 265.22ZM74.30 270.73L74.30 269.10L74.74 268.23L75.61 267.35L80.30 267.35L81.24 268.29L81.68 269.17L81.68 270.67L81.18 271.67L80.11 272.73L78.61 273.24L77.36 273.24L75.86 272.73L74.74 271.61ZM70.13 216.39L70.88 216.39L71.25 216.20L71.63 215.83L71.81 215.45L71.88 215.08L71.88 208.50L71.81 208.13L71.63 207.75L71.25 207.38L70.81 207.19L70.19 207.19L69.75 207.38L69.31 207.82L69.13 208.32L69.13 215.26L69.44 215.95L69.81 216.27ZM64.81 205.62L65.06 206.12L65.69 206.56L66.38 206.63L66.75 206.50L67.38 205.87L67.50 205.50L67.50 204.18L67.56 204.12L68.19 204.56L68.81 204.81L69.50 204.75L69.75 204.62L70.19 204.18L70.44 203.43L70.44 202.62L70.63 202.43L71.00 202.31L71.44 202.31L71.94 202.49L72.19 202.74L72.38 203.31L72.38 203.93L72.25 204.37L71.50 204.87L71.06 205.37L70.94 205.75L71.00 206.44L71.25 206.88L71.75 207.25L71.94 207.31L72.94 207.25L73.56 206.94L74.38 206.25L74.75 205.62L75.06 204.68L75.13 202.93L74.75 201.62L74.38 200.99L73.69 200.30L72.94 199.86L71.56 199.49L70.88 199.49L69.31 199.93L68.75 200.30L68.19 200.99L68.06 200.99L67.13 200.24L66.44 199.93L65.63 199.99L65.38 200.11L65.00 200.49L64.81 200.87L64.75 201.24L64.75 205.31ZM63.55 197.67L63.80 198.36L64.11 198.68L64.74 198.93L65.36 198.86L65.93 198.55L67.36 197.11L69.24 195.86L71.86 194.54L75.18 193.85L77.86 193.85L81.18 194.54L83.93 195.92L85.93 197.30L87.11 198.55L87.93 198.93L88.36 198.93L88.93 198.68L89.36 198.17L89.49 197.80L89.49 197.36L89.11 196.55L87.43 194.92L85.30 193.48L82.30 191.98L82.11 191.98L81.74 191.79L78.30 191.10L78.18 191.16L78.11 191.10L74.93 191.10L74.86 191.16L74.74 191.10L71.30 191.79L71.11 191.91L70.74 191.98L67.99 193.35L65.43 195.11L63.74 196.86Z" fill="#000" fill-rule="evenodd"/>
</svg></body></html>
